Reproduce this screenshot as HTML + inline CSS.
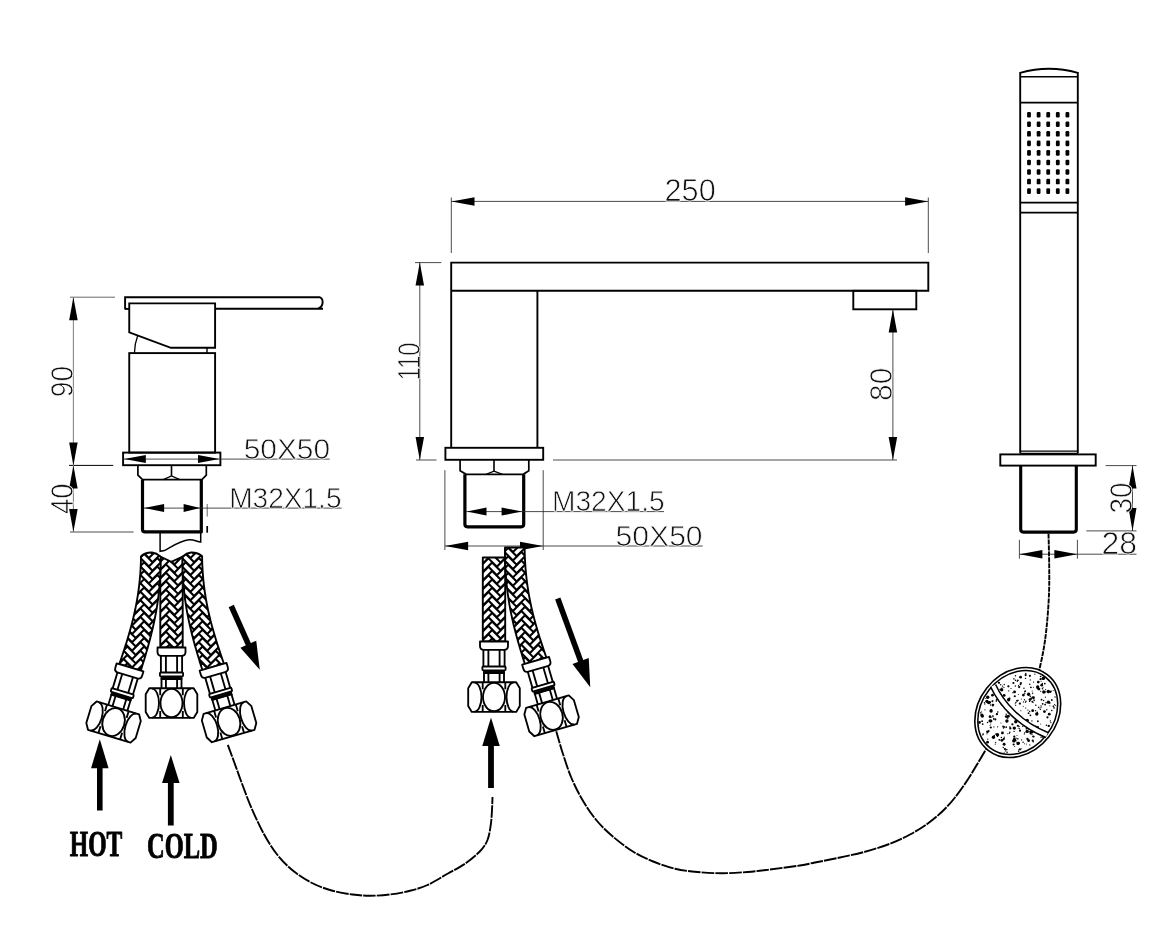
<!DOCTYPE html>
<html><head><meta charset="utf-8"><title>Bath mixer dimensions</title>
<style>html,body{margin:0;padding:0;background:#fff}svg{display:block}</style></head>
<body>
<svg width="1160" height="951" viewBox="0 0 1160 951" style="will-change:transform">
<rect width="1160" height="951" fill="#fff"/>
<path d="M125.1,309.4V297.2H319.3C323.9,298.6 323.9,306.5 318.2,308.7" fill="none" stroke="#000" stroke-width="1.9" />
<line x1="215.1" y1="308.7" x2="323" y2="308.7" stroke="#000" stroke-width="1.9" />
<line x1="125.1" y1="308.9" x2="129.3" y2="308.9" stroke="#000" stroke-width="1.9" />
<path d="M129.25,303.4H215.1V347.8H170.9L129.25,332.4Z" fill="none" stroke="#000" stroke-width="1.9" />
<path d="M137.6,336Q134.7,343.5 134.5,352.5" fill="none" stroke="#000" stroke-width="1.3" />
<line x1="207" y1="347.8" x2="207" y2="353" stroke="#000" stroke-width="1.4" />
<rect x="129.25" y="353.1" width="85.85" height="99.5" rx="0" fill="none" stroke="#000" stroke-width="1.9"/>
<rect x="123.1" y="452.6" width="97.3" height="12.6" rx="0" fill="none" stroke="#000" stroke-width="1.9"/>
<path d="M137.9,465.2V475.2L142.6,479.7H201.9L206.3,475.2V465.2" fill="none" stroke="#000" stroke-width="1.7" />
<path d="M163.2,479.7L171.5,476L179.8,479.7" fill="none" stroke="#000" stroke-width="1.3" />
<line x1="171.5" y1="465.2" x2="171.5" y2="476" stroke="#000" stroke-width="1.6" />
<path d="M142.5,479.7V529.5Q142.5,531.9 145,531.9H201.3V479.7" fill="none" stroke="#000" stroke-width="3.2" stroke-linejoin="round"/>
<path d="M160.1,532V551.3L164.5,550.6C174,545.5 180,540.8 189,539.8C194,539.4 197,541.8 200.7,542.1V532" fill="none" stroke="#000" stroke-width="1.5" />
<line x1="207.2" y1="504" x2="207.2" y2="516.6" stroke="#555" stroke-width="0.9" />
<line x1="207.2" y1="526" x2="207.2" y2="532.7" stroke="#000" stroke-width="1.7" />
<line x1="70" y1="297.2" x2="115" y2="297.2" stroke="#444" stroke-width="0.8" />
<line x1="69" y1="465.4" x2="113.3" y2="465.4" stroke="#000" stroke-width="1.0" />
<line x1="70" y1="532" x2="133.6" y2="532" stroke="#888" stroke-width="1.3" />
<line x1="73.4" y1="297.2" x2="73.4" y2="532" stroke="#888" stroke-width="1.1" />
<polygon points="73.4,297.2 77.65,320.2 69.15,320.2" fill="#000"/>
<polygon points="73.4,465.4 69.15,442.4 77.65,442.4" fill="#000"/>
<polygon points="73.4,465.4 77.65,488.4 69.15,488.4" fill="#000"/>
<polygon points="73.4,532 69.15,509 77.65,509" fill="#000"/>
<text x="73.2" y="397.3" font-family="'Liberation Sans', sans-serif" font-size="31.5" font-weight="normal" text-anchor="start" fill="#111" stroke="#fff" stroke-width="0.75" textLength="31.4" lengthAdjust="spacingAndGlyphs" transform="rotate(-90 73.2 397.3)">90</text>
<text x="73.2" y="514.1" font-family="'Liberation Sans', sans-serif" font-size="31.5" font-weight="normal" text-anchor="start" fill="#111" stroke="#fff" stroke-width="0.75" textLength="30.6" lengthAdjust="spacingAndGlyphs" transform="rotate(-90 73.2 514.1)">40</text>
<line x1="123.5" y1="459.1" x2="329.7" y2="459.1" stroke="#2a2a2a" stroke-width="0.85" />
<polygon points="124.2,459.1 145.8,455.1 145.8,463.1" fill="#000"/>
<polygon points="219.4,459.1 198,463.1 198,455.1" fill="#000"/>
<text x="243.7" y="458.8" font-family="'Liberation Sans', sans-serif" font-size="30" font-weight="normal" text-anchor="start" fill="#111" stroke="#fff" stroke-width="0.75" textLength="86.4" lengthAdjust="spacingAndGlyphs">50X50</text>
<line x1="144" y1="508.1" x2="341.6" y2="508.1" stroke="#2a2a2a" stroke-width="0.85" />
<polygon points="144.1,508.1 164.1,504.1 164.1,512.1" fill="#000"/>
<polygon points="200.1,508.1 183.6,512.1 183.6,504.1" fill="#000"/>
<text x="229.2" y="508" font-family="'Liberation Sans', sans-serif" font-size="30" font-weight="normal" text-anchor="start" fill="#111" stroke="#fff" stroke-width="0.75" textLength="112.3" lengthAdjust="spacingAndGlyphs">M32X1.5</text>
<clipPath id="hc1"><path d="M160.3,556.5 L160.3,557.75 L160.3,559.01 L160.3,560.25 L160.3,561.5 L160.3,562.74 L160.3,563.98 L160.3,565.21 L160.3,566.45 L160.3,567.67 L160.3,568.9 L160.3,570.12 L160.3,571.34 L160.3,572.56 L160.3,573.77 L160.3,574.98 L160.3,576.19 L160.3,577.39 L160.3,578.59 L160.3,579.79 L160.3,580.98 L160.3,582.18 L160.3,583.36 L160.3,584.55 L160.3,585.73 L160.3,586.91 L160.3,588.09 L160.3,589.26 L160.3,590.43 L160.3,591.6 L160.3,592.76 L160.3,593.93 L160.3,595.08 L160.3,596.24 L160.3,597.39 L160.3,598.54 L160.3,599.69 L160.3,600.83 L160.3,601.98 L160.3,603.11 L160.3,604.25 L160.3,605.38 L160.3,606.51 L160.3,607.64 L160.3,608.77 L160.3,609.89 L160.3,611.01 L160.3,612.12 L160.3,613.24 L160.3,614.35 L160.3,615.46 L160.3,616.56 L160.3,617.66 L160.3,618.76 L160.3,619.86 L160.3,620.96 L160.3,622.05 L160.3,623.14 L160.3,624.22 L160.3,625.31 L160.3,626.39 L160.3,627.47 L160.3,628.55 L160.3,629.62 L160.3,630.69 L160.3,631.76 L160.3,632.83 L160.3,633.89 L160.3,634.95 L160.3,636.01 L160.3,637.07 L160.3,638.12 L160.3,639.17 L160.3,640.22 L160.3,641.27 L160.3,642.31 L160.3,643.36 L160.3,644.4 L160.3,645.43 L160.3,646.47 L160.3,647.5 L182.7,647.5 L182.7,646.47 L182.7,645.43 L182.7,644.4 L182.7,643.36 L182.7,642.31 L182.7,641.27 L182.7,640.22 L182.7,639.17 L182.7,638.12 L182.7,637.07 L182.7,636.01 L182.7,634.95 L182.7,633.89 L182.7,632.83 L182.7,631.76 L182.7,630.69 L182.7,629.62 L182.7,628.55 L182.7,627.47 L182.7,626.39 L182.7,625.31 L182.7,624.22 L182.7,623.14 L182.7,622.05 L182.7,620.96 L182.7,619.86 L182.7,618.76 L182.7,617.66 L182.7,616.56 L182.7,615.46 L182.7,614.35 L182.7,613.24 L182.7,612.12 L182.7,611.01 L182.7,609.89 L182.7,608.77 L182.7,607.64 L182.7,606.51 L182.7,605.38 L182.7,604.25 L182.7,603.11 L182.7,601.98 L182.7,600.83 L182.7,599.69 L182.7,598.54 L182.7,597.39 L182.7,596.24 L182.7,595.08 L182.7,593.93 L182.7,592.76 L182.7,591.6 L182.7,590.43 L182.7,589.26 L182.7,588.09 L182.7,586.91 L182.7,585.73 L182.7,584.55 L182.7,583.36 L182.7,582.18 L182.7,580.98 L182.7,579.79 L182.7,578.59 L182.7,577.39 L182.7,576.19 L182.7,574.98 L182.7,573.77 L182.7,572.56 L182.7,571.34 L182.7,570.12 L182.7,568.9 L182.7,567.67 L182.7,566.45 L182.7,565.21 L182.7,563.98 L182.7,562.74 L182.7,561.5 L182.7,560.25 L182.7,559.01 L182.7,557.75 L182.7,556.5 L182.7,556.5 L171.3,561.8 L160.3,556.5 Z"/></clipPath>
<g clip-path="url(#hc1)">
<path d="M160.3,556.5 L160.3,557.75 L160.3,559.01 L160.3,560.25 L160.3,561.5 L160.3,562.74 L160.3,563.98 L160.3,565.21 L160.3,566.45 L160.3,567.67 L160.3,568.9 L160.3,570.12 L160.3,571.34 L160.3,572.56 L160.3,573.77 L160.3,574.98 L160.3,576.19 L160.3,577.39 L160.3,578.59 L160.3,579.79 L160.3,580.98 L160.3,582.18 L160.3,583.36 L160.3,584.55 L160.3,585.73 L160.3,586.91 L160.3,588.09 L160.3,589.26 L160.3,590.43 L160.3,591.6 L160.3,592.76 L160.3,593.93 L160.3,595.08 L160.3,596.24 L160.3,597.39 L160.3,598.54 L160.3,599.69 L160.3,600.83 L160.3,601.98 L160.3,603.11 L160.3,604.25 L160.3,605.38 L160.3,606.51 L160.3,607.64 L160.3,608.77 L160.3,609.89 L160.3,611.01 L160.3,612.12 L160.3,613.24 L160.3,614.35 L160.3,615.46 L160.3,616.56 L160.3,617.66 L160.3,618.76 L160.3,619.86 L160.3,620.96 L160.3,622.05 L160.3,623.14 L160.3,624.22 L160.3,625.31 L160.3,626.39 L160.3,627.47 L160.3,628.55 L160.3,629.62 L160.3,630.69 L160.3,631.76 L160.3,632.83 L160.3,633.89 L160.3,634.95 L160.3,636.01 L160.3,637.07 L160.3,638.12 L160.3,639.17 L160.3,640.22 L160.3,641.27 L160.3,642.31 L160.3,643.36 L160.3,644.4 L160.3,645.43 L160.3,646.47 L160.3,647.5 L182.7,647.5 L182.7,646.47 L182.7,645.43 L182.7,644.4 L182.7,643.36 L182.7,642.31 L182.7,641.27 L182.7,640.22 L182.7,639.17 L182.7,638.12 L182.7,637.07 L182.7,636.01 L182.7,634.95 L182.7,633.89 L182.7,632.83 L182.7,631.76 L182.7,630.69 L182.7,629.62 L182.7,628.55 L182.7,627.47 L182.7,626.39 L182.7,625.31 L182.7,624.22 L182.7,623.14 L182.7,622.05 L182.7,620.96 L182.7,619.86 L182.7,618.76 L182.7,617.66 L182.7,616.56 L182.7,615.46 L182.7,614.35 L182.7,613.24 L182.7,612.12 L182.7,611.01 L182.7,609.89 L182.7,608.77 L182.7,607.64 L182.7,606.51 L182.7,605.38 L182.7,604.25 L182.7,603.11 L182.7,601.98 L182.7,600.83 L182.7,599.69 L182.7,598.54 L182.7,597.39 L182.7,596.24 L182.7,595.08 L182.7,593.93 L182.7,592.76 L182.7,591.6 L182.7,590.43 L182.7,589.26 L182.7,588.09 L182.7,586.91 L182.7,585.73 L182.7,584.55 L182.7,583.36 L182.7,582.18 L182.7,580.98 L182.7,579.79 L182.7,578.59 L182.7,577.39 L182.7,576.19 L182.7,574.98 L182.7,573.77 L182.7,572.56 L182.7,571.34 L182.7,570.12 L182.7,568.9 L182.7,567.67 L182.7,566.45 L182.7,565.21 L182.7,563.98 L182.7,562.74 L182.7,561.5 L182.7,560.25 L182.7,559.01 L182.7,557.75 L182.7,556.5 L182.7,556.5 L171.3,561.8 L160.3,556.5 Z" fill="#000"/>
<path d="M143.19,540.64l7.21,-7.21M143.19,549.06l7.21,-7.21M143.19,557.48l7.21,-7.21M143.19,565.9l7.21,-7.21M143.19,574.32l7.21,-7.21M143.19,582.74l7.21,-7.21M143.19,591.16l7.21,-7.21M143.19,599.58l7.21,-7.21M143.19,608l7.21,-7.21M143.19,616.42l7.21,-7.21M143.19,624.84l7.21,-7.21M143.19,633.26l7.21,-7.21M143.19,641.68l7.21,-7.21M143.19,650.1l7.21,-7.21M143.19,658.52l7.21,-7.21M143.19,666.94l7.21,-7.21M151.59,537.63l7.21,7.21M151.59,546.05l7.21,7.21M151.59,554.47l7.21,7.21M151.59,562.89l7.21,7.21M151.59,571.31l7.21,7.21M151.59,579.73l7.21,7.21M151.59,588.15l7.21,7.21M151.59,596.57l7.21,7.21M151.59,604.99l7.21,7.21M151.59,613.41l7.21,7.21M151.59,621.83l7.21,7.21M151.59,630.25l7.21,7.21M151.59,638.67l7.21,7.21M151.59,647.09l7.21,7.21M151.59,655.51l7.21,7.21M159.99,540.64l7.21,-7.21M159.99,549.06l7.21,-7.21M159.99,557.48l7.21,-7.21M159.99,565.9l7.21,-7.21M159.99,574.32l7.21,-7.21M159.99,582.74l7.21,-7.21M159.99,591.16l7.21,-7.21M159.99,599.58l7.21,-7.21M159.99,608l7.21,-7.21M159.99,616.42l7.21,-7.21M159.99,624.84l7.21,-7.21M159.99,633.26l7.21,-7.21M159.99,641.68l7.21,-7.21M159.99,650.1l7.21,-7.21M159.99,658.52l7.21,-7.21M159.99,666.94l7.21,-7.21M168.39,537.63l7.21,7.21M168.39,546.05l7.21,7.21M168.39,554.47l7.21,7.21M168.39,562.89l7.21,7.21M168.39,571.31l7.21,7.21M168.39,579.73l7.21,7.21M168.39,588.15l7.21,7.21M168.39,596.57l7.21,7.21M168.39,604.99l7.21,7.21M168.39,613.41l7.21,7.21M168.39,621.83l7.21,7.21M168.39,630.25l7.21,7.21M168.39,638.67l7.21,7.21M168.39,647.09l7.21,7.21M168.39,655.51l7.21,7.21M176.79,540.64l7.21,-7.21M176.79,549.06l7.21,-7.21M176.79,557.48l7.21,-7.21M176.79,565.9l7.21,-7.21M176.79,574.32l7.21,-7.21M176.79,582.74l7.21,-7.21M176.79,591.16l7.21,-7.21M176.79,599.58l7.21,-7.21M176.79,608l7.21,-7.21M176.79,616.42l7.21,-7.21M176.79,624.84l7.21,-7.21M176.79,633.26l7.21,-7.21M176.79,641.68l7.21,-7.21M176.79,650.1l7.21,-7.21M176.79,658.52l7.21,-7.21M176.79,666.94l7.21,-7.21M185.19,537.63l7.21,7.21M185.19,546.05l7.21,7.21M185.19,554.47l7.21,7.21M185.19,562.89l7.21,7.21M185.19,571.31l7.21,7.21M185.19,579.73l7.21,7.21M185.19,588.15l7.21,7.21M185.19,596.57l7.21,7.21M185.19,604.99l7.21,7.21M185.19,613.41l7.21,7.21M185.19,621.83l7.21,7.21M185.19,630.25l7.21,7.21M185.19,638.67l7.21,7.21M185.19,647.09l7.21,7.21M185.19,655.51l7.21,7.21M193.59,540.64l7.21,-7.21M193.59,549.06l7.21,-7.21M193.59,557.48l7.21,-7.21M193.59,565.9l7.21,-7.21M193.59,574.32l7.21,-7.21M193.59,582.74l7.21,-7.21M193.59,591.16l7.21,-7.21M193.59,599.58l7.21,-7.21M193.59,608l7.21,-7.21M193.59,616.42l7.21,-7.21M193.59,624.84l7.21,-7.21M193.59,633.26l7.21,-7.21M193.59,641.68l7.21,-7.21M193.59,650.1l7.21,-7.21M193.59,658.52l7.21,-7.21M193.59,666.94l7.21,-7.21" stroke="#fff" stroke-width="3.5" stroke-linecap="butt" fill="none"/>
</g>
<path d="M160.3,556.5 L160.3,557.75 L160.3,559.01 L160.3,560.25 L160.3,561.5 L160.3,562.74 L160.3,563.98 L160.3,565.21 L160.3,566.45 L160.3,567.67 L160.3,568.9 L160.3,570.12 L160.3,571.34 L160.3,572.56 L160.3,573.77 L160.3,574.98 L160.3,576.19 L160.3,577.39 L160.3,578.59 L160.3,579.79 L160.3,580.98 L160.3,582.18 L160.3,583.36 L160.3,584.55 L160.3,585.73 L160.3,586.91 L160.3,588.09 L160.3,589.26 L160.3,590.43 L160.3,591.6 L160.3,592.76 L160.3,593.93 L160.3,595.08 L160.3,596.24 L160.3,597.39 L160.3,598.54 L160.3,599.69 L160.3,600.83 L160.3,601.98 L160.3,603.11 L160.3,604.25 L160.3,605.38 L160.3,606.51 L160.3,607.64 L160.3,608.77 L160.3,609.89 L160.3,611.01 L160.3,612.12 L160.3,613.24 L160.3,614.35 L160.3,615.46 L160.3,616.56 L160.3,617.66 L160.3,618.76 L160.3,619.86 L160.3,620.96 L160.3,622.05 L160.3,623.14 L160.3,624.22 L160.3,625.31 L160.3,626.39 L160.3,627.47 L160.3,628.55 L160.3,629.62 L160.3,630.69 L160.3,631.76 L160.3,632.83 L160.3,633.89 L160.3,634.95 L160.3,636.01 L160.3,637.07 L160.3,638.12 L160.3,639.17 L160.3,640.22 L160.3,641.27 L160.3,642.31 L160.3,643.36 L160.3,644.4 L160.3,645.43 L160.3,646.47 L160.3,647.5 L182.7,647.5 L182.7,646.47 L182.7,645.43 L182.7,644.4 L182.7,643.36 L182.7,642.31 L182.7,641.27 L182.7,640.22 L182.7,639.17 L182.7,638.12 L182.7,637.07 L182.7,636.01 L182.7,634.95 L182.7,633.89 L182.7,632.83 L182.7,631.76 L182.7,630.69 L182.7,629.62 L182.7,628.55 L182.7,627.47 L182.7,626.39 L182.7,625.31 L182.7,624.22 L182.7,623.14 L182.7,622.05 L182.7,620.96 L182.7,619.86 L182.7,618.76 L182.7,617.66 L182.7,616.56 L182.7,615.46 L182.7,614.35 L182.7,613.24 L182.7,612.12 L182.7,611.01 L182.7,609.89 L182.7,608.77 L182.7,607.64 L182.7,606.51 L182.7,605.38 L182.7,604.25 L182.7,603.11 L182.7,601.98 L182.7,600.83 L182.7,599.69 L182.7,598.54 L182.7,597.39 L182.7,596.24 L182.7,595.08 L182.7,593.93 L182.7,592.76 L182.7,591.6 L182.7,590.43 L182.7,589.26 L182.7,588.09 L182.7,586.91 L182.7,585.73 L182.7,584.55 L182.7,583.36 L182.7,582.18 L182.7,580.98 L182.7,579.79 L182.7,578.59 L182.7,577.39 L182.7,576.19 L182.7,574.98 L182.7,573.77 L182.7,572.56 L182.7,571.34 L182.7,570.12 L182.7,568.9 L182.7,567.67 L182.7,566.45 L182.7,565.21 L182.7,563.98 L182.7,562.74 L182.7,561.5 L182.7,560.25 L182.7,559.01 L182.7,557.75 L182.7,556.5 L182.7,556.5 L171.3,561.8 L160.3,556.5 Z" fill="none" stroke="#000" stroke-width="1.9" stroke-linejoin="round"/>
<g transform="translate(171.5 647.5) rotate(0)" fill="#fff" stroke="#000" stroke-width="1.85" stroke-linejoin="round">
<rect x="-10" y="31" width="20" height="10.5"/>
<path d="M-5.6,31V41.5M5.6,31V41.5" fill="none"/>
<rect x="-10.6" y="7" width="21.2" height="18.5"/>
<path d="M-5.6,8V25M5.6,8V25" fill="none"/>
<rect x="-11.6" y="25" width="23.2" height="3.8" rx="1"/>
<rect x="-10.4" y="29.7" width="20.8" height="2.3" fill="#000" stroke-width="1"/>
<path d="M-14,0H14V4.5Q14,8.4 10,8.4H-10Q-14,8.4 -14,4.5Z"/>
<g transform="translate(0 40.8)">
<path d="M-22.2,0H22.2L25.8,6V23.6L22.2,29.6H-22.2L-25.8,23.6V6Z"/>
<ellipse cx="0" cy="14.8" rx="11" ry="14.2"/>
<path d="M-11.3,0V7M-11.3,22.6V29.6M11.3,0V7M11.3,22.6V29.6" fill="none"/>
<path d="M-19.5,0.3A7,14.5 0 0 1 -19.5,29.3M19.5,0.3A7,14.5 0 0 0 19.5,29.3" fill="none"/>
</g></g>
<clipPath id="hc2"><path d="M141,557 L140.98,558.59 L140.94,560.17 L140.9,561.74 L140.85,563.3 L140.79,564.85 L140.72,566.39 L140.65,567.92 L140.56,569.44 L140.47,570.95 L140.37,572.45 L140.27,573.94 L140.15,575.42 L140.03,576.9 L139.9,578.37 L139.76,579.82 L139.62,581.27 L139.47,582.71 L139.31,584.15 L139.15,585.57 L138.97,586.99 L138.79,588.4 L138.61,589.8 L138.42,591.2 L138.22,592.59 L138.01,593.97 L137.8,595.34 L137.58,596.71 L137.36,598.08 L137.13,599.43 L136.89,600.78 L136.65,602.12 L136.4,603.46 L136.15,604.8 L135.89,606.12 L135.63,607.44 L135.36,608.76 L135.08,610.07 L134.8,611.38 L134.51,612.68 L134.22,613.98 L133.93,615.27 L133.63,616.56 L133.32,617.85 L133.01,619.13 L132.7,620.4 L132.38,621.68 L132.05,622.95 L131.72,624.22 L131.39,625.48 L131.05,626.74 L130.71,628 L130.37,629.25 L130.02,630.51 L129.66,631.76 L129.31,633.01 L128.95,634.25 L128.58,635.5 L128.21,636.74 L127.84,637.98 L127.47,639.22 L127.09,640.46 L126.71,641.69 L126.33,642.93 L125.94,644.16 L125.55,645.4 L125.16,646.63 L124.76,647.86 L124.36,649.1 L123.96,650.33 L123.56,651.56 L123.15,652.79 L122.74,654.03 L122.33,655.26 L121.92,656.49 L121.51,657.73 L121.09,658.96 L120.67,660.2 L120.25,661.43 L119.83,662.67 L119.41,663.91 L140.69,670.89 L141.09,669.62 L141.49,668.36 L141.88,667.09 L142.28,665.82 L142.67,664.55 L143.06,663.28 L143.45,662.01 L143.84,660.74 L144.23,659.46 L144.61,658.18 L145,656.9 L145.38,655.62 L145.76,654.34 L146.14,653.05 L146.51,651.76 L146.89,650.47 L147.26,649.18 L147.63,647.88 L147.99,646.58 L148.35,645.28 L148.71,643.97 L149.07,642.66 L149.42,641.35 L149.78,640.03 L150.12,638.71 L150.47,637.38 L150.81,636.05 L151.14,634.72 L151.47,633.39 L151.8,632.04 L152.13,630.7 L152.45,629.35 L152.76,627.99 L153.07,626.63 L153.38,625.27 L153.68,623.9 L153.98,622.53 L154.27,621.15 L154.56,619.76 L154.84,618.37 L155.12,616.97 L155.39,615.57 L155.65,614.17 L155.91,612.75 L156.17,611.33 L156.42,609.91 L156.66,608.47 L156.9,607.04 L157.13,605.59 L157.35,604.14 L157.57,602.68 L157.78,601.22 L157.98,599.75 L158.18,598.27 L158.37,596.78 L158.56,595.29 L158.73,593.79 L158.9,592.28 L159.07,590.76 L159.22,589.24 L159.37,587.71 L159.51,586.17 L159.64,584.62 L159.77,583.07 L159.88,581.51 L159.99,579.94 L160.09,578.36 L160.18,576.77 L160.27,575.17 L160.34,573.56 L160.41,571.95 L160.46,570.33 L160.51,568.69 L160.55,567.05 L160.58,565.4 L160.61,563.74 L160.62,562.07 L160.62,560.39 L160.62,558.7 L160.6,557 L160.6,556.6 Q156.5,553 152,552.5 Q145,552.3 141,556.3 Z"/></clipPath>
<g clip-path="url(#hc2)">
<path d="M141,557 L140.98,558.59 L140.94,560.17 L140.9,561.74 L140.85,563.3 L140.79,564.85 L140.72,566.39 L140.65,567.92 L140.56,569.44 L140.47,570.95 L140.37,572.45 L140.27,573.94 L140.15,575.42 L140.03,576.9 L139.9,578.37 L139.76,579.82 L139.62,581.27 L139.47,582.71 L139.31,584.15 L139.15,585.57 L138.97,586.99 L138.79,588.4 L138.61,589.8 L138.42,591.2 L138.22,592.59 L138.01,593.97 L137.8,595.34 L137.58,596.71 L137.36,598.08 L137.13,599.43 L136.89,600.78 L136.65,602.12 L136.4,603.46 L136.15,604.8 L135.89,606.12 L135.63,607.44 L135.36,608.76 L135.08,610.07 L134.8,611.38 L134.51,612.68 L134.22,613.98 L133.93,615.27 L133.63,616.56 L133.32,617.85 L133.01,619.13 L132.7,620.4 L132.38,621.68 L132.05,622.95 L131.72,624.22 L131.39,625.48 L131.05,626.74 L130.71,628 L130.37,629.25 L130.02,630.51 L129.66,631.76 L129.31,633.01 L128.95,634.25 L128.58,635.5 L128.21,636.74 L127.84,637.98 L127.47,639.22 L127.09,640.46 L126.71,641.69 L126.33,642.93 L125.94,644.16 L125.55,645.4 L125.16,646.63 L124.76,647.86 L124.36,649.1 L123.96,650.33 L123.56,651.56 L123.15,652.79 L122.74,654.03 L122.33,655.26 L121.92,656.49 L121.51,657.73 L121.09,658.96 L120.67,660.2 L120.25,661.43 L119.83,662.67 L119.41,663.91 L140.69,670.89 L141.09,669.62 L141.49,668.36 L141.88,667.09 L142.28,665.82 L142.67,664.55 L143.06,663.28 L143.45,662.01 L143.84,660.74 L144.23,659.46 L144.61,658.18 L145,656.9 L145.38,655.62 L145.76,654.34 L146.14,653.05 L146.51,651.76 L146.89,650.47 L147.26,649.18 L147.63,647.88 L147.99,646.58 L148.35,645.28 L148.71,643.97 L149.07,642.66 L149.42,641.35 L149.78,640.03 L150.12,638.71 L150.47,637.38 L150.81,636.05 L151.14,634.72 L151.47,633.39 L151.8,632.04 L152.13,630.7 L152.45,629.35 L152.76,627.99 L153.07,626.63 L153.38,625.27 L153.68,623.9 L153.98,622.53 L154.27,621.15 L154.56,619.76 L154.84,618.37 L155.12,616.97 L155.39,615.57 L155.65,614.17 L155.91,612.75 L156.17,611.33 L156.42,609.91 L156.66,608.47 L156.9,607.04 L157.13,605.59 L157.35,604.14 L157.57,602.68 L157.78,601.22 L157.98,599.75 L158.18,598.27 L158.37,596.78 L158.56,595.29 L158.73,593.79 L158.9,592.28 L159.07,590.76 L159.22,589.24 L159.37,587.71 L159.51,586.17 L159.64,584.62 L159.77,583.07 L159.88,581.51 L159.99,579.94 L160.09,578.36 L160.18,576.77 L160.27,575.17 L160.34,573.56 L160.41,571.95 L160.46,570.33 L160.51,568.69 L160.55,567.05 L160.58,565.4 L160.61,563.74 L160.62,562.07 L160.62,560.39 L160.62,558.7 L160.6,557 L160.6,556.6 Q156.5,553 152,552.5 Q145,552.3 141,556.3 Z" fill="#000"/>
<path d="M100.89,542.76l7.21,-7.21M100.89,551.18l7.21,-7.21M100.89,559.6l7.21,-7.21M100.89,568.02l7.21,-7.21M100.89,576.44l7.21,-7.21M100.89,584.86l7.21,-7.21M100.89,593.28l7.21,-7.21M100.89,601.7l7.21,-7.21M100.89,610.12l7.21,-7.21M100.89,618.54l7.21,-7.21M100.89,626.96l7.21,-7.21M100.89,635.38l7.21,-7.21M100.89,643.8l7.21,-7.21M100.89,652.22l7.21,-7.21M100.89,660.64l7.21,-7.21M100.89,669.06l7.21,-7.21M100.89,677.48l7.21,-7.21M100.89,685.9l7.21,-7.21M109.29,539.75l7.21,7.21M109.29,548.17l7.21,7.21M109.29,556.59l7.21,7.21M109.29,565.01l7.21,7.21M109.29,573.43l7.21,7.21M109.29,581.85l7.21,7.21M109.29,590.27l7.21,7.21M109.29,598.69l7.21,7.21M109.29,607.11l7.21,7.21M109.29,615.53l7.21,7.21M109.29,623.95l7.21,7.21M109.29,632.37l7.21,7.21M109.29,640.79l7.21,7.21M109.29,649.21l7.21,7.21M109.29,657.63l7.21,7.21M109.29,666.05l7.21,7.21M109.29,674.47l7.21,7.21M109.29,682.89l7.21,7.21M117.69,542.76l7.21,-7.21M117.69,551.18l7.21,-7.21M117.69,559.6l7.21,-7.21M117.69,568.02l7.21,-7.21M117.69,576.44l7.21,-7.21M117.69,584.86l7.21,-7.21M117.69,593.28l7.21,-7.21M117.69,601.7l7.21,-7.21M117.69,610.12l7.21,-7.21M117.69,618.54l7.21,-7.21M117.69,626.96l7.21,-7.21M117.69,635.38l7.21,-7.21M117.69,643.8l7.21,-7.21M117.69,652.22l7.21,-7.21M117.69,660.64l7.21,-7.21M117.69,669.06l7.21,-7.21M117.69,677.48l7.21,-7.21M117.69,685.9l7.21,-7.21M126.09,539.75l7.21,7.21M126.09,548.17l7.21,7.21M126.09,556.59l7.21,7.21M126.09,565.01l7.21,7.21M126.09,573.43l7.21,7.21M126.09,581.85l7.21,7.21M126.09,590.27l7.21,7.21M126.09,598.69l7.21,7.21M126.09,607.11l7.21,7.21M126.09,615.53l7.21,7.21M126.09,623.95l7.21,7.21M126.09,632.37l7.21,7.21M126.09,640.79l7.21,7.21M126.09,649.21l7.21,7.21M126.09,657.63l7.21,7.21M126.09,666.05l7.21,7.21M126.09,674.47l7.21,7.21M126.09,682.89l7.21,7.21M134.49,542.76l7.21,-7.21M134.49,551.18l7.21,-7.21M134.49,559.6l7.21,-7.21M134.49,568.02l7.21,-7.21M134.49,576.44l7.21,-7.21M134.49,584.86l7.21,-7.21M134.49,593.28l7.21,-7.21M134.49,601.7l7.21,-7.21M134.49,610.12l7.21,-7.21M134.49,618.54l7.21,-7.21M134.49,626.96l7.21,-7.21M134.49,635.38l7.21,-7.21M134.49,643.8l7.21,-7.21M134.49,652.22l7.21,-7.21M134.49,660.64l7.21,-7.21M134.49,669.06l7.21,-7.21M134.49,677.48l7.21,-7.21M134.49,685.9l7.21,-7.21M142.89,539.75l7.21,7.21M142.89,548.17l7.21,7.21M142.89,556.59l7.21,7.21M142.89,565.01l7.21,7.21M142.89,573.43l7.21,7.21M142.89,581.85l7.21,7.21M142.89,590.27l7.21,7.21M142.89,598.69l7.21,7.21M142.89,607.11l7.21,7.21M142.89,615.53l7.21,7.21M142.89,623.95l7.21,7.21M142.89,632.37l7.21,7.21M142.89,640.79l7.21,7.21M142.89,649.21l7.21,7.21M142.89,657.63l7.21,7.21M142.89,666.05l7.21,7.21M142.89,674.47l7.21,7.21M142.89,682.89l7.21,7.21M151.29,542.76l7.21,-7.21M151.29,551.18l7.21,-7.21M151.29,559.6l7.21,-7.21M151.29,568.02l7.21,-7.21M151.29,576.44l7.21,-7.21M151.29,584.86l7.21,-7.21M151.29,593.28l7.21,-7.21M151.29,601.7l7.21,-7.21M151.29,610.12l7.21,-7.21M151.29,618.54l7.21,-7.21M151.29,626.96l7.21,-7.21M151.29,635.38l7.21,-7.21M151.29,643.8l7.21,-7.21M151.29,652.22l7.21,-7.21M151.29,660.64l7.21,-7.21M151.29,669.06l7.21,-7.21M151.29,677.48l7.21,-7.21M151.29,685.9l7.21,-7.21M159.69,539.75l7.21,7.21M159.69,548.17l7.21,7.21M159.69,556.59l7.21,7.21M159.69,565.01l7.21,7.21M159.69,573.43l7.21,7.21M159.69,581.85l7.21,7.21M159.69,590.27l7.21,7.21M159.69,598.69l7.21,7.21M159.69,607.11l7.21,7.21M159.69,615.53l7.21,7.21M159.69,623.95l7.21,7.21M159.69,632.37l7.21,7.21M159.69,640.79l7.21,7.21M159.69,649.21l7.21,7.21M159.69,657.63l7.21,7.21M159.69,666.05l7.21,7.21M159.69,674.47l7.21,7.21M159.69,682.89l7.21,7.21M168.09,542.76l7.21,-7.21M168.09,551.18l7.21,-7.21M168.09,559.6l7.21,-7.21M168.09,568.02l7.21,-7.21M168.09,576.44l7.21,-7.21M168.09,584.86l7.21,-7.21M168.09,593.28l7.21,-7.21M168.09,601.7l7.21,-7.21M168.09,610.12l7.21,-7.21M168.09,618.54l7.21,-7.21M168.09,626.96l7.21,-7.21M168.09,635.38l7.21,-7.21M168.09,643.8l7.21,-7.21M168.09,652.22l7.21,-7.21M168.09,660.64l7.21,-7.21M168.09,669.06l7.21,-7.21M168.09,677.48l7.21,-7.21M168.09,685.9l7.21,-7.21" stroke="#fff" stroke-width="3.5" stroke-linecap="butt" fill="none"/>
</g>
<path d="M141,557 L140.98,558.59 L140.94,560.17 L140.9,561.74 L140.85,563.3 L140.79,564.85 L140.72,566.39 L140.65,567.92 L140.56,569.44 L140.47,570.95 L140.37,572.45 L140.27,573.94 L140.15,575.42 L140.03,576.9 L139.9,578.37 L139.76,579.82 L139.62,581.27 L139.47,582.71 L139.31,584.15 L139.15,585.57 L138.97,586.99 L138.79,588.4 L138.61,589.8 L138.42,591.2 L138.22,592.59 L138.01,593.97 L137.8,595.34 L137.58,596.71 L137.36,598.08 L137.13,599.43 L136.89,600.78 L136.65,602.12 L136.4,603.46 L136.15,604.8 L135.89,606.12 L135.63,607.44 L135.36,608.76 L135.08,610.07 L134.8,611.38 L134.51,612.68 L134.22,613.98 L133.93,615.27 L133.63,616.56 L133.32,617.85 L133.01,619.13 L132.7,620.4 L132.38,621.68 L132.05,622.95 L131.72,624.22 L131.39,625.48 L131.05,626.74 L130.71,628 L130.37,629.25 L130.02,630.51 L129.66,631.76 L129.31,633.01 L128.95,634.25 L128.58,635.5 L128.21,636.74 L127.84,637.98 L127.47,639.22 L127.09,640.46 L126.71,641.69 L126.33,642.93 L125.94,644.16 L125.55,645.4 L125.16,646.63 L124.76,647.86 L124.36,649.1 L123.96,650.33 L123.56,651.56 L123.15,652.79 L122.74,654.03 L122.33,655.26 L121.92,656.49 L121.51,657.73 L121.09,658.96 L120.67,660.2 L120.25,661.43 L119.83,662.67 L119.41,663.91 L140.69,670.89 L141.09,669.62 L141.49,668.36 L141.88,667.09 L142.28,665.82 L142.67,664.55 L143.06,663.28 L143.45,662.01 L143.84,660.74 L144.23,659.46 L144.61,658.18 L145,656.9 L145.38,655.62 L145.76,654.34 L146.14,653.05 L146.51,651.76 L146.89,650.47 L147.26,649.18 L147.63,647.88 L147.99,646.58 L148.35,645.28 L148.71,643.97 L149.07,642.66 L149.42,641.35 L149.78,640.03 L150.12,638.71 L150.47,637.38 L150.81,636.05 L151.14,634.72 L151.47,633.39 L151.8,632.04 L152.13,630.7 L152.45,629.35 L152.76,627.99 L153.07,626.63 L153.38,625.27 L153.68,623.9 L153.98,622.53 L154.27,621.15 L154.56,619.76 L154.84,618.37 L155.12,616.97 L155.39,615.57 L155.65,614.17 L155.91,612.75 L156.17,611.33 L156.42,609.91 L156.66,608.47 L156.9,607.04 L157.13,605.59 L157.35,604.14 L157.57,602.68 L157.78,601.22 L157.98,599.75 L158.18,598.27 L158.37,596.78 L158.56,595.29 L158.73,593.79 L158.9,592.28 L159.07,590.76 L159.22,589.24 L159.37,587.71 L159.51,586.17 L159.64,584.62 L159.77,583.07 L159.88,581.51 L159.99,579.94 L160.09,578.36 L160.18,576.77 L160.27,575.17 L160.34,573.56 L160.41,571.95 L160.46,570.33 L160.51,568.69 L160.55,567.05 L160.58,565.4 L160.61,563.74 L160.62,562.07 L160.62,560.39 L160.62,558.7 L160.6,557 L160.6,556.6 Q156.5,553 152,552.5 Q145,552.3 141,556.3 Z" fill="none" stroke="#000" stroke-width="1.9" stroke-linejoin="round"/>
<g transform="translate(130.05 667.4) rotate(16.8)" fill="#fff" stroke="#000" stroke-width="1.85" stroke-linejoin="round">
<rect x="-10" y="31" width="20" height="12"/>
<path d="M-5.6,31V43M5.6,31V43" fill="none"/>
<rect x="-10.6" y="7" width="21.2" height="18.5"/>
<path d="M-5.6,8V25M5.6,8V25" fill="none"/>
<rect x="-11.6" y="25" width="23.2" height="3.8" rx="1"/>
<rect x="-10.4" y="29.7" width="20.8" height="2.3" fill="#000" stroke-width="1"/>
<path d="M-14,0H14V4.5Q14,8.4 10,8.4H-10Q-14,8.4 -14,4.5Z"/>
<g transform="translate(0 42.3)">
<path d="M-22.2,0H22.2L25.8,6V23.6L22.2,29.6H-22.2L-25.8,23.6V6Z"/>
<ellipse cx="0" cy="14.8" rx="11" ry="14.2"/>
<path d="M-11.3,0V7M-11.3,22.6V29.6M11.3,0V7M11.3,22.6V29.6" fill="none"/>
<path d="M-19.5,0.3A7,14.5 0 0 1 -19.5,29.3M19.5,0.3A7,14.5 0 0 0 19.5,29.3" fill="none"/>
</g></g>
<clipPath id="hc3"><path d="M182.5,557 L182.48,558.7 L182.48,560.39 L182.48,562.06 L182.49,563.73 L182.51,565.39 L182.54,567.03 L182.58,568.67 L182.63,570.3 L182.69,571.91 L182.75,573.52 L182.83,575.12 L182.91,576.71 L183,578.29 L183.1,579.86 L183.21,581.42 L183.32,582.97 L183.45,584.51 L183.58,586.05 L183.72,587.58 L183.86,589.09 L184.02,590.6 L184.18,592.11 L184.35,593.6 L184.53,595.09 L184.71,596.57 L184.9,598.04 L185.1,599.5 L185.3,600.96 L185.51,602.41 L185.73,603.86 L185.95,605.29 L186.18,606.72 L186.42,608.15 L186.66,609.56 L186.91,610.97 L187.16,612.38 L187.42,613.78 L187.69,615.17 L187.96,616.56 L188.24,617.94 L188.52,619.32 L188.8,620.69 L189.1,622.05 L189.39,623.42 L189.7,624.77 L190,626.12 L190.31,627.47 L190.63,628.81 L190.95,630.15 L191.28,631.48 L191.6,632.81 L191.94,634.14 L192.27,635.46 L192.62,636.78 L192.96,638.1 L193.31,639.41 L193.66,640.72 L194.01,642.02 L194.37,643.33 L194.73,644.63 L195.1,645.92 L195.47,647.22 L195.84,648.51 L196.21,649.8 L196.59,651.09 L196.96,652.38 L197.34,653.66 L197.73,654.95 L198.11,656.23 L198.5,657.51 L198.89,658.79 L199.28,660.07 L199.67,661.35 L200.07,662.63 L200.46,663.91 L200.86,665.18 L201.26,666.46 L201.66,667.74 L202.06,669.02 L202.46,670.29 L223.74,663.31 L223.31,662.05 L222.88,660.8 L222.46,659.55 L222.03,658.3 L221.61,657.05 L221.19,655.81 L220.78,654.57 L220.36,653.33 L219.95,652.09 L219.54,650.85 L219.13,649.62 L218.73,648.38 L218.33,647.15 L217.93,645.92 L217.53,644.68 L217.14,643.45 L216.75,642.22 L216.36,640.98 L215.98,639.75 L215.6,638.52 L215.22,637.28 L214.85,636.05 L214.48,634.82 L214.12,633.58 L213.75,632.34 L213.4,631.1 L213.04,629.86 L212.69,628.62 L212.35,627.38 L212.01,626.13 L211.67,624.88 L211.34,623.63 L211.01,622.38 L210.68,621.12 L210.36,619.86 L210.05,618.6 L209.74,617.33 L209.43,616.06 L209.13,614.79 L208.84,613.51 L208.55,612.23 L208.26,610.94 L207.98,609.65 L207.71,608.36 L207.44,607.06 L207.18,605.75 L206.92,604.44 L206.67,603.12 L206.42,601.8 L206.18,600.47 L205.95,599.14 L205.72,597.8 L205.49,596.46 L205.28,595.1 L205.07,593.74 L204.86,592.38 L204.67,591 L204.48,589.62 L204.29,588.23 L204.11,586.84 L203.94,585.43 L203.78,584.02 L203.62,582.6 L203.47,581.17 L203.33,579.73 L203.19,578.29 L203.06,576.83 L202.94,575.37 L202.83,573.89 L202.72,572.41 L202.62,570.91 L202.53,569.41 L202.45,567.9 L202.38,566.37 L202.31,564.84 L202.25,563.29 L202.2,561.74 L202.16,560.17 L202.12,558.59 L202.1,557 L202.1,556.3 Q198,552.3 191,552.5 Q186.5,553 182.5,556.6 Z"/></clipPath>
<g clip-path="url(#hc3)">
<path d="M182.5,557 L182.48,558.7 L182.48,560.39 L182.48,562.06 L182.49,563.73 L182.51,565.39 L182.54,567.03 L182.58,568.67 L182.63,570.3 L182.69,571.91 L182.75,573.52 L182.83,575.12 L182.91,576.71 L183,578.29 L183.1,579.86 L183.21,581.42 L183.32,582.97 L183.45,584.51 L183.58,586.05 L183.72,587.58 L183.86,589.09 L184.02,590.6 L184.18,592.11 L184.35,593.6 L184.53,595.09 L184.71,596.57 L184.9,598.04 L185.1,599.5 L185.3,600.96 L185.51,602.41 L185.73,603.86 L185.95,605.29 L186.18,606.72 L186.42,608.15 L186.66,609.56 L186.91,610.97 L187.16,612.38 L187.42,613.78 L187.69,615.17 L187.96,616.56 L188.24,617.94 L188.52,619.32 L188.8,620.69 L189.1,622.05 L189.39,623.42 L189.7,624.77 L190,626.12 L190.31,627.47 L190.63,628.81 L190.95,630.15 L191.28,631.48 L191.6,632.81 L191.94,634.14 L192.27,635.46 L192.62,636.78 L192.96,638.1 L193.31,639.41 L193.66,640.72 L194.01,642.02 L194.37,643.33 L194.73,644.63 L195.1,645.92 L195.47,647.22 L195.84,648.51 L196.21,649.8 L196.59,651.09 L196.96,652.38 L197.34,653.66 L197.73,654.95 L198.11,656.23 L198.5,657.51 L198.89,658.79 L199.28,660.07 L199.67,661.35 L200.07,662.63 L200.46,663.91 L200.86,665.18 L201.26,666.46 L201.66,667.74 L202.06,669.02 L202.46,670.29 L223.74,663.31 L223.31,662.05 L222.88,660.8 L222.46,659.55 L222.03,658.3 L221.61,657.05 L221.19,655.81 L220.78,654.57 L220.36,653.33 L219.95,652.09 L219.54,650.85 L219.13,649.62 L218.73,648.38 L218.33,647.15 L217.93,645.92 L217.53,644.68 L217.14,643.45 L216.75,642.22 L216.36,640.98 L215.98,639.75 L215.6,638.52 L215.22,637.28 L214.85,636.05 L214.48,634.82 L214.12,633.58 L213.75,632.34 L213.4,631.1 L213.04,629.86 L212.69,628.62 L212.35,627.38 L212.01,626.13 L211.67,624.88 L211.34,623.63 L211.01,622.38 L210.68,621.12 L210.36,619.86 L210.05,618.6 L209.74,617.33 L209.43,616.06 L209.13,614.79 L208.84,613.51 L208.55,612.23 L208.26,610.94 L207.98,609.65 L207.71,608.36 L207.44,607.06 L207.18,605.75 L206.92,604.44 L206.67,603.12 L206.42,601.8 L206.18,600.47 L205.95,599.14 L205.72,597.8 L205.49,596.46 L205.28,595.1 L205.07,593.74 L204.86,592.38 L204.67,591 L204.48,589.62 L204.29,588.23 L204.11,586.84 L203.94,585.43 L203.78,584.02 L203.62,582.6 L203.47,581.17 L203.33,579.73 L203.19,578.29 L203.06,576.83 L202.94,575.37 L202.83,573.89 L202.72,572.41 L202.62,570.91 L202.53,569.41 L202.45,567.9 L202.38,566.37 L202.31,564.84 L202.25,563.29 L202.2,561.74 L202.16,560.17 L202.12,558.59 L202.1,557 L202.1,556.3 Q198,552.3 191,552.5 Q186.5,553 182.5,556.6 Z" fill="#000"/>
<path d="M167.69,539.75l7.21,7.21M167.69,548.17l7.21,7.21M167.69,556.59l7.21,7.21M167.69,565.01l7.21,7.21M167.69,573.43l7.21,7.21M167.69,581.85l7.21,7.21M167.69,590.27l7.21,7.21M167.69,598.69l7.21,7.21M167.69,607.11l7.21,7.21M167.69,615.53l7.21,7.21M167.69,623.95l7.21,7.21M167.69,632.37l7.21,7.21M167.69,640.79l7.21,7.21M167.69,649.21l7.21,7.21M167.69,657.63l7.21,7.21M167.69,666.05l7.21,7.21M167.69,674.47l7.21,7.21M167.69,682.89l7.21,7.21M176.09,542.76l7.21,-7.21M176.09,551.18l7.21,-7.21M176.09,559.6l7.21,-7.21M176.09,568.02l7.21,-7.21M176.09,576.44l7.21,-7.21M176.09,584.86l7.21,-7.21M176.09,593.28l7.21,-7.21M176.09,601.7l7.21,-7.21M176.09,610.12l7.21,-7.21M176.09,618.54l7.21,-7.21M176.09,626.96l7.21,-7.21M176.09,635.38l7.21,-7.21M176.09,643.8l7.21,-7.21M176.09,652.22l7.21,-7.21M176.09,660.64l7.21,-7.21M176.09,669.06l7.21,-7.21M176.09,677.48l7.21,-7.21M176.09,685.9l7.21,-7.21M184.49,539.75l7.21,7.21M184.49,548.17l7.21,7.21M184.49,556.59l7.21,7.21M184.49,565.01l7.21,7.21M184.49,573.43l7.21,7.21M184.49,581.85l7.21,7.21M184.49,590.27l7.21,7.21M184.49,598.69l7.21,7.21M184.49,607.11l7.21,7.21M184.49,615.53l7.21,7.21M184.49,623.95l7.21,7.21M184.49,632.37l7.21,7.21M184.49,640.79l7.21,7.21M184.49,649.21l7.21,7.21M184.49,657.63l7.21,7.21M184.49,666.05l7.21,7.21M184.49,674.47l7.21,7.21M184.49,682.89l7.21,7.21M192.89,542.76l7.21,-7.21M192.89,551.18l7.21,-7.21M192.89,559.6l7.21,-7.21M192.89,568.02l7.21,-7.21M192.89,576.44l7.21,-7.21M192.89,584.86l7.21,-7.21M192.89,593.28l7.21,-7.21M192.89,601.7l7.21,-7.21M192.89,610.12l7.21,-7.21M192.89,618.54l7.21,-7.21M192.89,626.96l7.21,-7.21M192.89,635.38l7.21,-7.21M192.89,643.8l7.21,-7.21M192.89,652.22l7.21,-7.21M192.89,660.64l7.21,-7.21M192.89,669.06l7.21,-7.21M192.89,677.48l7.21,-7.21M192.89,685.9l7.21,-7.21M201.29,539.75l7.21,7.21M201.29,548.17l7.21,7.21M201.29,556.59l7.21,7.21M201.29,565.01l7.21,7.21M201.29,573.43l7.21,7.21M201.29,581.85l7.21,7.21M201.29,590.27l7.21,7.21M201.29,598.69l7.21,7.21M201.29,607.11l7.21,7.21M201.29,615.53l7.21,7.21M201.29,623.95l7.21,7.21M201.29,632.37l7.21,7.21M201.29,640.79l7.21,7.21M201.29,649.21l7.21,7.21M201.29,657.63l7.21,7.21M201.29,666.05l7.21,7.21M201.29,674.47l7.21,7.21M201.29,682.89l7.21,7.21M209.69,542.76l7.21,-7.21M209.69,551.18l7.21,-7.21M209.69,559.6l7.21,-7.21M209.69,568.02l7.21,-7.21M209.69,576.44l7.21,-7.21M209.69,584.86l7.21,-7.21M209.69,593.28l7.21,-7.21M209.69,601.7l7.21,-7.21M209.69,610.12l7.21,-7.21M209.69,618.54l7.21,-7.21M209.69,626.96l7.21,-7.21M209.69,635.38l7.21,-7.21M209.69,643.8l7.21,-7.21M209.69,652.22l7.21,-7.21M209.69,660.64l7.21,-7.21M209.69,669.06l7.21,-7.21M209.69,677.48l7.21,-7.21M209.69,685.9l7.21,-7.21M218.09,539.75l7.21,7.21M218.09,548.17l7.21,7.21M218.09,556.59l7.21,7.21M218.09,565.01l7.21,7.21M218.09,573.43l7.21,7.21M218.09,581.85l7.21,7.21M218.09,590.27l7.21,7.21M218.09,598.69l7.21,7.21M218.09,607.11l7.21,7.21M218.09,615.53l7.21,7.21M218.09,623.95l7.21,7.21M218.09,632.37l7.21,7.21M218.09,640.79l7.21,7.21M218.09,649.21l7.21,7.21M218.09,657.63l7.21,7.21M218.09,666.05l7.21,7.21M218.09,674.47l7.21,7.21M218.09,682.89l7.21,7.21M226.49,542.76l7.21,-7.21M226.49,551.18l7.21,-7.21M226.49,559.6l7.21,-7.21M226.49,568.02l7.21,-7.21M226.49,576.44l7.21,-7.21M226.49,584.86l7.21,-7.21M226.49,593.28l7.21,-7.21M226.49,601.7l7.21,-7.21M226.49,610.12l7.21,-7.21M226.49,618.54l7.21,-7.21M226.49,626.96l7.21,-7.21M226.49,635.38l7.21,-7.21M226.49,643.8l7.21,-7.21M226.49,652.22l7.21,-7.21M226.49,660.64l7.21,-7.21M226.49,669.06l7.21,-7.21M226.49,677.48l7.21,-7.21M226.49,685.9l7.21,-7.21M234.89,539.75l7.21,7.21M234.89,548.17l7.21,7.21M234.89,556.59l7.21,7.21M234.89,565.01l7.21,7.21M234.89,573.43l7.21,7.21M234.89,581.85l7.21,7.21M234.89,590.27l7.21,7.21M234.89,598.69l7.21,7.21M234.89,607.11l7.21,7.21M234.89,615.53l7.21,7.21M234.89,623.95l7.21,7.21M234.89,632.37l7.21,7.21M234.89,640.79l7.21,7.21M234.89,649.21l7.21,7.21M234.89,657.63l7.21,7.21M234.89,666.05l7.21,7.21M234.89,674.47l7.21,7.21M234.89,682.89l7.21,7.21" stroke="#fff" stroke-width="3.5" stroke-linecap="butt" fill="none"/>
</g>
<path d="M182.5,557 L182.48,558.7 L182.48,560.39 L182.48,562.06 L182.49,563.73 L182.51,565.39 L182.54,567.03 L182.58,568.67 L182.63,570.3 L182.69,571.91 L182.75,573.52 L182.83,575.12 L182.91,576.71 L183,578.29 L183.1,579.86 L183.21,581.42 L183.32,582.97 L183.45,584.51 L183.58,586.05 L183.72,587.58 L183.86,589.09 L184.02,590.6 L184.18,592.11 L184.35,593.6 L184.53,595.09 L184.71,596.57 L184.9,598.04 L185.1,599.5 L185.3,600.96 L185.51,602.41 L185.73,603.86 L185.95,605.29 L186.18,606.72 L186.42,608.15 L186.66,609.56 L186.91,610.97 L187.16,612.38 L187.42,613.78 L187.69,615.17 L187.96,616.56 L188.24,617.94 L188.52,619.32 L188.8,620.69 L189.1,622.05 L189.39,623.42 L189.7,624.77 L190,626.12 L190.31,627.47 L190.63,628.81 L190.95,630.15 L191.28,631.48 L191.6,632.81 L191.94,634.14 L192.27,635.46 L192.62,636.78 L192.96,638.1 L193.31,639.41 L193.66,640.72 L194.01,642.02 L194.37,643.33 L194.73,644.63 L195.1,645.92 L195.47,647.22 L195.84,648.51 L196.21,649.8 L196.59,651.09 L196.96,652.38 L197.34,653.66 L197.73,654.95 L198.11,656.23 L198.5,657.51 L198.89,658.79 L199.28,660.07 L199.67,661.35 L200.07,662.63 L200.46,663.91 L200.86,665.18 L201.26,666.46 L201.66,667.74 L202.06,669.02 L202.46,670.29 L223.74,663.31 L223.31,662.05 L222.88,660.8 L222.46,659.55 L222.03,658.3 L221.61,657.05 L221.19,655.81 L220.78,654.57 L220.36,653.33 L219.95,652.09 L219.54,650.85 L219.13,649.62 L218.73,648.38 L218.33,647.15 L217.93,645.92 L217.53,644.68 L217.14,643.45 L216.75,642.22 L216.36,640.98 L215.98,639.75 L215.6,638.52 L215.22,637.28 L214.85,636.05 L214.48,634.82 L214.12,633.58 L213.75,632.34 L213.4,631.1 L213.04,629.86 L212.69,628.62 L212.35,627.38 L212.01,626.13 L211.67,624.88 L211.34,623.63 L211.01,622.38 L210.68,621.12 L210.36,619.86 L210.05,618.6 L209.74,617.33 L209.43,616.06 L209.13,614.79 L208.84,613.51 L208.55,612.23 L208.26,610.94 L207.98,609.65 L207.71,608.36 L207.44,607.06 L207.18,605.75 L206.92,604.44 L206.67,603.12 L206.42,601.8 L206.18,600.47 L205.95,599.14 L205.72,597.8 L205.49,596.46 L205.28,595.1 L205.07,593.74 L204.86,592.38 L204.67,591 L204.48,589.62 L204.29,588.23 L204.11,586.84 L203.94,585.43 L203.78,584.02 L203.62,582.6 L203.47,581.17 L203.33,579.73 L203.19,578.29 L203.06,576.83 L202.94,575.37 L202.83,573.89 L202.72,572.41 L202.62,570.91 L202.53,569.41 L202.45,567.9 L202.38,566.37 L202.31,564.84 L202.25,563.29 L202.2,561.74 L202.16,560.17 L202.12,558.59 L202.1,557 L202.1,556.3 Q198,552.3 191,552.5 Q186.5,553 182.5,556.6 Z" fill="none" stroke="#000" stroke-width="1.9" stroke-linejoin="round"/>
<g transform="translate(213.1 666.8) rotate(-16.2)" fill="#fff" stroke="#000" stroke-width="1.85" stroke-linejoin="round">
<rect x="-10" y="31" width="20" height="12.2"/>
<path d="M-5.6,31V43.2M5.6,31V43.2" fill="none"/>
<rect x="-10.6" y="7" width="21.2" height="18.5"/>
<path d="M-5.6,8V25M5.6,8V25" fill="none"/>
<rect x="-11.6" y="25" width="23.2" height="3.8" rx="1"/>
<rect x="-10.4" y="29.7" width="20.8" height="2.3" fill="#000" stroke-width="1"/>
<path d="M-14,0H14V4.5Q14,8.4 10,8.4H-10Q-14,8.4 -14,4.5Z"/>
<g transform="translate(0 42.5)">
<path d="M-22.2,0H22.2L25.8,6V23.6L22.2,29.6H-22.2L-25.8,23.6V6Z"/>
<ellipse cx="0" cy="14.8" rx="11" ry="14.2"/>
<path d="M-11.3,0V7M-11.3,22.6V29.6M11.3,0V7M11.3,22.6V29.6" fill="none"/>
<path d="M-19.5,0.3A7,14.5 0 0 1 -19.5,29.3M19.5,0.3A7,14.5 0 0 0 19.5,29.3" fill="none"/>
</g></g>
<line x1="231.25" y1="606" x2="248.73" y2="645.1" stroke="#000" stroke-width="5.6" />
<polygon points="259.75,669.75 240.43,647.72 256.22,640.66" fill="#000"/>
<line x1="99.8" y1="810.5" x2="99.8" y2="767.2" stroke="#000" stroke-width="5.6" />
<polygon points="99.8,739.2 108.55,768.2 91.05,768.2" fill="#000"/>
<line x1="170.8" y1="825.5" x2="170.8" y2="782" stroke="#000" stroke-width="5.8" />
<polygon points="170.8,755 179.55,783 162.05,783" fill="#000"/>
<text x="69.8" y="856.3" font-family="'Liberation Serif', sans-serif" font-size="36.3" font-weight="bold" text-anchor="start" fill="#000" stroke="#000" stroke-width="0.9" stroke-linejoin="round" textLength="52.6" lengthAdjust="spacingAndGlyphs">HOT</text>
<text x="147" y="858.3" font-family="'Liberation Serif', sans-serif" font-size="36.3" font-weight="bold" text-anchor="start" fill="#000" stroke="#000" stroke-width="0.9" stroke-linejoin="round" textLength="70.8" lengthAdjust="spacingAndGlyphs">COLD</text>
<path d="M451.2,447.8V262.6H928.3V290.8H451.2" fill="none" stroke="#000" stroke-width="1.9" />
<line x1="537.4" y1="290.8" x2="537.4" y2="447.8" stroke="#000" stroke-width="1.9" />
<rect x="853.3" y="290.8" width="63" height="18.5" rx="0" fill="none" stroke="#000" stroke-width="1.9"/>
<rect x="445.4" y="447.8" width="97.8" height="12" rx="0" fill="none" stroke="#000" stroke-width="1.9"/>
<path d="M460.1,459.8V470.7L466.2,474.3H523.2L528.8,470.7V459.8" fill="none" stroke="#000" stroke-width="1.7" />
<path d="M486,474.3L494,471.2L502.6,474.3" fill="none" stroke="#000" stroke-width="1.3" />
<line x1="494" y1="459.8" x2="494" y2="471.2" stroke="#000" stroke-width="1.6" />
<path d="M464.9,474.3V524.3Q464.9,526.8 467.4,526.8H521.2Q523.7,526.8 523.7,524.3V474.3" fill="none" stroke="#000" stroke-width="3.2" stroke-linejoin="round"/>
<line x1="451.3" y1="197.5" x2="451.3" y2="253" stroke="#2a2a2a" stroke-width="0.85" />
<line x1="928.3" y1="197.5" x2="928.3" y2="253" stroke="#2a2a2a" stroke-width="0.85" />
<line x1="451.3" y1="201.4" x2="928.3" y2="201.4" stroke="#2a2a2a" stroke-width="0.85" />
<polygon points="451.5,201.4 474.5,197.15 474.5,205.65" fill="#000"/>
<polygon points="928.1,201.4 905.1,205.65 905.1,197.15" fill="#000"/>
<text x="664.5" y="201.3" font-family="'Liberation Sans', sans-serif" font-size="31" font-weight="normal" text-anchor="start" fill="#111" stroke="#fff" stroke-width="0.75" textLength="51.2" lengthAdjust="spacingAndGlyphs">250</text>
<line x1="415" y1="262.6" x2="441.3" y2="262.6" stroke="#2a2a2a" stroke-width="0.85" />
<line x1="416" y1="460" x2="436.5" y2="460" stroke="#2a2a2a" stroke-width="0.85" />
<line x1="419.8" y1="262.6" x2="419.8" y2="460" stroke="#2a2a2a" stroke-width="0.85" />
<polygon points="419.8,262.6 424.05,285.6 415.55,285.6" fill="#000"/>
<polygon points="419.8,460 415.55,437 424.05,437" fill="#000"/>
<text x="419.6" y="380.2" font-family="'Liberation Sans', sans-serif" font-size="31" font-weight="normal" text-anchor="start" fill="#111" stroke="#fff" stroke-width="0.75" textLength="37.6" lengthAdjust="spacingAndGlyphs" transform="rotate(-90 419.6 380.2)">110</text>
<line x1="553" y1="460" x2="897" y2="460" stroke="#2a2a2a" stroke-width="0.85" />
<line x1="892.9" y1="309.3" x2="892.9" y2="460" stroke="#2a2a2a" stroke-width="0.85" />
<polygon points="892.9,309.5 897.15,332.5 888.65,332.5" fill="#000"/>
<polygon points="892.9,460 888.65,437 897.15,437" fill="#000"/>
<text x="892.5" y="400.9" font-family="'Liberation Sans', sans-serif" font-size="30.5" font-weight="normal" text-anchor="start" fill="#111" stroke="#fff" stroke-width="0.75" textLength="33.2" lengthAdjust="spacingAndGlyphs" transform="rotate(-90 892.5 400.9)">80</text>
<line x1="466" y1="511.6" x2="664" y2="511.6" stroke="#2a2a2a" stroke-width="0.85" />
<polygon points="466.7,511.6 486.5,507.6 486.5,515.6" fill="#000"/>
<polygon points="522.2,511.6 501.6,515.6 501.6,507.6" fill="#000"/>
<text x="552" y="511.4" font-family="'Liberation Sans', sans-serif" font-size="30" font-weight="normal" text-anchor="start" fill="#111" stroke="#fff" stroke-width="0.75" textLength="112.6" lengthAdjust="spacingAndGlyphs">M32X1.5</text>
<line x1="444.9" y1="470.2" x2="444.9" y2="550" stroke="#2a2a2a" stroke-width="0.85" />
<line x1="543.2" y1="470.2" x2="543.2" y2="550" stroke="#2a2a2a" stroke-width="0.85" />
<line x1="444.9" y1="546" x2="702.7" y2="546" stroke="#2a2a2a" stroke-width="0.85" />
<polygon points="445.1,546 468.1,541.75 468.1,550.25" fill="#000"/>
<polygon points="543,546 520,550.25 520,541.75" fill="#000"/>
<text x="615.6" y="545.8" font-family="'Liberation Sans', sans-serif" font-size="30" font-weight="normal" text-anchor="start" fill="#111" stroke="#fff" stroke-width="0.75" textLength="87" lengthAdjust="spacingAndGlyphs">50X50</text>
<clipPath id="hc4"><path d="M482.8,557.5 L482.8,558.5 L482.8,559.49 L482.8,560.5 L482.8,561.5 L482.8,562.51 L482.8,563.52 L482.8,564.53 L482.8,565.55 L482.8,566.57 L482.8,567.59 L482.8,568.61 L482.8,569.64 L482.8,570.67 L482.8,571.7 L482.8,572.74 L482.8,573.77 L482.8,574.81 L482.8,575.85 L482.8,576.89 L482.8,577.94 L482.8,578.98 L482.8,580.03 L482.8,581.08 L482.8,582.13 L482.8,583.19 L482.8,584.24 L482.8,585.3 L482.8,586.35 L482.8,587.41 L482.8,588.47 L482.8,589.53 L482.8,590.6 L482.8,591.66 L482.8,592.72 L482.8,593.79 L482.8,594.85 L482.8,595.92 L482.8,596.99 L482.8,598.06 L482.8,599.12 L482.8,600.19 L482.8,601.26 L482.8,602.33 L482.8,603.4 L482.8,604.47 L482.8,605.54 L482.8,606.61 L482.8,607.68 L482.8,608.75 L482.8,609.82 L482.8,610.89 L482.8,611.96 L482.8,613.03 L482.8,614.1 L482.8,615.17 L482.8,616.24 L482.8,617.3 L482.8,618.37 L482.8,619.44 L482.8,620.5 L482.8,621.56 L482.8,622.63 L482.8,623.69 L482.8,624.75 L482.8,625.81 L482.8,626.86 L482.8,627.92 L482.8,628.98 L482.8,630.03 L482.8,631.08 L482.8,632.13 L482.8,633.18 L482.8,634.23 L482.8,635.27 L482.8,636.32 L482.8,637.36 L482.8,638.4 L482.8,639.43 L482.8,640.47 L482.8,641.5 L505.2,641.5 L505.2,640.47 L505.2,639.43 L505.2,638.4 L505.2,637.36 L505.2,636.32 L505.2,635.27 L505.2,634.23 L505.2,633.18 L505.2,632.13 L505.2,631.08 L505.2,630.03 L505.2,628.98 L505.2,627.92 L505.2,626.86 L505.2,625.81 L505.2,624.75 L505.2,623.69 L505.2,622.63 L505.2,621.56 L505.2,620.5 L505.2,619.44 L505.2,618.37 L505.2,617.3 L505.2,616.24 L505.2,615.17 L505.2,614.1 L505.2,613.03 L505.2,611.96 L505.2,610.89 L505.2,609.82 L505.2,608.75 L505.2,607.68 L505.2,606.61 L505.2,605.54 L505.2,604.47 L505.2,603.4 L505.2,602.33 L505.2,601.26 L505.2,600.19 L505.2,599.12 L505.2,598.06 L505.2,596.99 L505.2,595.92 L505.2,594.85 L505.2,593.79 L505.2,592.72 L505.2,591.66 L505.2,590.6 L505.2,589.53 L505.2,588.47 L505.2,587.41 L505.2,586.35 L505.2,585.3 L505.2,584.24 L505.2,583.19 L505.2,582.13 L505.2,581.08 L505.2,580.03 L505.2,578.98 L505.2,577.94 L505.2,576.89 L505.2,575.85 L505.2,574.81 L505.2,573.77 L505.2,572.74 L505.2,571.7 L505.2,570.67 L505.2,569.64 L505.2,568.61 L505.2,567.59 L505.2,566.57 L505.2,565.55 L505.2,564.53 L505.2,563.52 L505.2,562.51 L505.2,561.5 L505.2,560.5 L505.2,559.49 L505.2,558.5 L505.2,557.5 Z"/></clipPath>
<g clip-path="url(#hc4)">
<path d="M482.8,557.5 L482.8,558.5 L482.8,559.49 L482.8,560.5 L482.8,561.5 L482.8,562.51 L482.8,563.52 L482.8,564.53 L482.8,565.55 L482.8,566.57 L482.8,567.59 L482.8,568.61 L482.8,569.64 L482.8,570.67 L482.8,571.7 L482.8,572.74 L482.8,573.77 L482.8,574.81 L482.8,575.85 L482.8,576.89 L482.8,577.94 L482.8,578.98 L482.8,580.03 L482.8,581.08 L482.8,582.13 L482.8,583.19 L482.8,584.24 L482.8,585.3 L482.8,586.35 L482.8,587.41 L482.8,588.47 L482.8,589.53 L482.8,590.6 L482.8,591.66 L482.8,592.72 L482.8,593.79 L482.8,594.85 L482.8,595.92 L482.8,596.99 L482.8,598.06 L482.8,599.12 L482.8,600.19 L482.8,601.26 L482.8,602.33 L482.8,603.4 L482.8,604.47 L482.8,605.54 L482.8,606.61 L482.8,607.68 L482.8,608.75 L482.8,609.82 L482.8,610.89 L482.8,611.96 L482.8,613.03 L482.8,614.1 L482.8,615.17 L482.8,616.24 L482.8,617.3 L482.8,618.37 L482.8,619.44 L482.8,620.5 L482.8,621.56 L482.8,622.63 L482.8,623.69 L482.8,624.75 L482.8,625.81 L482.8,626.86 L482.8,627.92 L482.8,628.98 L482.8,630.03 L482.8,631.08 L482.8,632.13 L482.8,633.18 L482.8,634.23 L482.8,635.27 L482.8,636.32 L482.8,637.36 L482.8,638.4 L482.8,639.43 L482.8,640.47 L482.8,641.5 L505.2,641.5 L505.2,640.47 L505.2,639.43 L505.2,638.4 L505.2,637.36 L505.2,636.32 L505.2,635.27 L505.2,634.23 L505.2,633.18 L505.2,632.13 L505.2,631.08 L505.2,630.03 L505.2,628.98 L505.2,627.92 L505.2,626.86 L505.2,625.81 L505.2,624.75 L505.2,623.69 L505.2,622.63 L505.2,621.56 L505.2,620.5 L505.2,619.44 L505.2,618.37 L505.2,617.3 L505.2,616.24 L505.2,615.17 L505.2,614.1 L505.2,613.03 L505.2,611.96 L505.2,610.89 L505.2,609.82 L505.2,608.75 L505.2,607.68 L505.2,606.61 L505.2,605.54 L505.2,604.47 L505.2,603.4 L505.2,602.33 L505.2,601.26 L505.2,600.19 L505.2,599.12 L505.2,598.06 L505.2,596.99 L505.2,595.92 L505.2,594.85 L505.2,593.79 L505.2,592.72 L505.2,591.66 L505.2,590.6 L505.2,589.53 L505.2,588.47 L505.2,587.41 L505.2,586.35 L505.2,585.3 L505.2,584.24 L505.2,583.19 L505.2,582.13 L505.2,581.08 L505.2,580.03 L505.2,578.98 L505.2,577.94 L505.2,576.89 L505.2,575.85 L505.2,574.81 L505.2,573.77 L505.2,572.74 L505.2,571.7 L505.2,570.67 L505.2,569.64 L505.2,568.61 L505.2,567.59 L505.2,566.57 L505.2,565.55 L505.2,564.53 L505.2,563.52 L505.2,562.51 L505.2,561.5 L505.2,560.5 L505.2,559.49 L505.2,558.5 L505.2,557.5 Z" fill="#000"/>
<path d="M465.69,543.06l7.21,-7.21M465.69,551.48l7.21,-7.21M465.69,559.9l7.21,-7.21M465.69,568.32l7.21,-7.21M465.69,576.74l7.21,-7.21M465.69,585.16l7.21,-7.21M465.69,593.58l7.21,-7.21M465.69,602l7.21,-7.21M465.69,610.42l7.21,-7.21M465.69,618.84l7.21,-7.21M465.69,627.26l7.21,-7.21M465.69,635.68l7.21,-7.21M465.69,644.1l7.21,-7.21M465.69,652.52l7.21,-7.21M465.69,660.94l7.21,-7.21M474.09,540.05l7.21,7.21M474.09,548.47l7.21,7.21M474.09,556.89l7.21,7.21M474.09,565.31l7.21,7.21M474.09,573.73l7.21,7.21M474.09,582.15l7.21,7.21M474.09,590.57l7.21,7.21M474.09,598.99l7.21,7.21M474.09,607.41l7.21,7.21M474.09,615.83l7.21,7.21M474.09,624.25l7.21,7.21M474.09,632.67l7.21,7.21M474.09,641.09l7.21,7.21M474.09,649.51l7.21,7.21M482.49,543.06l7.21,-7.21M482.49,551.48l7.21,-7.21M482.49,559.9l7.21,-7.21M482.49,568.32l7.21,-7.21M482.49,576.74l7.21,-7.21M482.49,585.16l7.21,-7.21M482.49,593.58l7.21,-7.21M482.49,602l7.21,-7.21M482.49,610.42l7.21,-7.21M482.49,618.84l7.21,-7.21M482.49,627.26l7.21,-7.21M482.49,635.68l7.21,-7.21M482.49,644.1l7.21,-7.21M482.49,652.52l7.21,-7.21M482.49,660.94l7.21,-7.21M490.89,540.05l7.21,7.21M490.89,548.47l7.21,7.21M490.89,556.89l7.21,7.21M490.89,565.31l7.21,7.21M490.89,573.73l7.21,7.21M490.89,582.15l7.21,7.21M490.89,590.57l7.21,7.21M490.89,598.99l7.21,7.21M490.89,607.41l7.21,7.21M490.89,615.83l7.21,7.21M490.89,624.25l7.21,7.21M490.89,632.67l7.21,7.21M490.89,641.09l7.21,7.21M490.89,649.51l7.21,7.21M499.29,543.06l7.21,-7.21M499.29,551.48l7.21,-7.21M499.29,559.9l7.21,-7.21M499.29,568.32l7.21,-7.21M499.29,576.74l7.21,-7.21M499.29,585.16l7.21,-7.21M499.29,593.58l7.21,-7.21M499.29,602l7.21,-7.21M499.29,610.42l7.21,-7.21M499.29,618.84l7.21,-7.21M499.29,627.26l7.21,-7.21M499.29,635.68l7.21,-7.21M499.29,644.1l7.21,-7.21M499.29,652.52l7.21,-7.21M499.29,660.94l7.21,-7.21M507.69,540.05l7.21,7.21M507.69,548.47l7.21,7.21M507.69,556.89l7.21,7.21M507.69,565.31l7.21,7.21M507.69,573.73l7.21,7.21M507.69,582.15l7.21,7.21M507.69,590.57l7.21,7.21M507.69,598.99l7.21,7.21M507.69,607.41l7.21,7.21M507.69,615.83l7.21,7.21M507.69,624.25l7.21,7.21M507.69,632.67l7.21,7.21M507.69,641.09l7.21,7.21M507.69,649.51l7.21,7.21M516.09,543.06l7.21,-7.21M516.09,551.48l7.21,-7.21M516.09,559.9l7.21,-7.21M516.09,568.32l7.21,-7.21M516.09,576.74l7.21,-7.21M516.09,585.16l7.21,-7.21M516.09,593.58l7.21,-7.21M516.09,602l7.21,-7.21M516.09,610.42l7.21,-7.21M516.09,618.84l7.21,-7.21M516.09,627.26l7.21,-7.21M516.09,635.68l7.21,-7.21M516.09,644.1l7.21,-7.21M516.09,652.52l7.21,-7.21M516.09,660.94l7.21,-7.21" stroke="#fff" stroke-width="3.5" stroke-linecap="butt" fill="none"/>
</g>
<path d="M482.8,557.5 L482.8,558.5 L482.8,559.49 L482.8,560.5 L482.8,561.5 L482.8,562.51 L482.8,563.52 L482.8,564.53 L482.8,565.55 L482.8,566.57 L482.8,567.59 L482.8,568.61 L482.8,569.64 L482.8,570.67 L482.8,571.7 L482.8,572.74 L482.8,573.77 L482.8,574.81 L482.8,575.85 L482.8,576.89 L482.8,577.94 L482.8,578.98 L482.8,580.03 L482.8,581.08 L482.8,582.13 L482.8,583.19 L482.8,584.24 L482.8,585.3 L482.8,586.35 L482.8,587.41 L482.8,588.47 L482.8,589.53 L482.8,590.6 L482.8,591.66 L482.8,592.72 L482.8,593.79 L482.8,594.85 L482.8,595.92 L482.8,596.99 L482.8,598.06 L482.8,599.12 L482.8,600.19 L482.8,601.26 L482.8,602.33 L482.8,603.4 L482.8,604.47 L482.8,605.54 L482.8,606.61 L482.8,607.68 L482.8,608.75 L482.8,609.82 L482.8,610.89 L482.8,611.96 L482.8,613.03 L482.8,614.1 L482.8,615.17 L482.8,616.24 L482.8,617.3 L482.8,618.37 L482.8,619.44 L482.8,620.5 L482.8,621.56 L482.8,622.63 L482.8,623.69 L482.8,624.75 L482.8,625.81 L482.8,626.86 L482.8,627.92 L482.8,628.98 L482.8,630.03 L482.8,631.08 L482.8,632.13 L482.8,633.18 L482.8,634.23 L482.8,635.27 L482.8,636.32 L482.8,637.36 L482.8,638.4 L482.8,639.43 L482.8,640.47 L482.8,641.5 L505.2,641.5 L505.2,640.47 L505.2,639.43 L505.2,638.4 L505.2,637.36 L505.2,636.32 L505.2,635.27 L505.2,634.23 L505.2,633.18 L505.2,632.13 L505.2,631.08 L505.2,630.03 L505.2,628.98 L505.2,627.92 L505.2,626.86 L505.2,625.81 L505.2,624.75 L505.2,623.69 L505.2,622.63 L505.2,621.56 L505.2,620.5 L505.2,619.44 L505.2,618.37 L505.2,617.3 L505.2,616.24 L505.2,615.17 L505.2,614.1 L505.2,613.03 L505.2,611.96 L505.2,610.89 L505.2,609.82 L505.2,608.75 L505.2,607.68 L505.2,606.61 L505.2,605.54 L505.2,604.47 L505.2,603.4 L505.2,602.33 L505.2,601.26 L505.2,600.19 L505.2,599.12 L505.2,598.06 L505.2,596.99 L505.2,595.92 L505.2,594.85 L505.2,593.79 L505.2,592.72 L505.2,591.66 L505.2,590.6 L505.2,589.53 L505.2,588.47 L505.2,587.41 L505.2,586.35 L505.2,585.3 L505.2,584.24 L505.2,583.19 L505.2,582.13 L505.2,581.08 L505.2,580.03 L505.2,578.98 L505.2,577.94 L505.2,576.89 L505.2,575.85 L505.2,574.81 L505.2,573.77 L505.2,572.74 L505.2,571.7 L505.2,570.67 L505.2,569.64 L505.2,568.61 L505.2,567.59 L505.2,566.57 L505.2,565.55 L505.2,564.53 L505.2,563.52 L505.2,562.51 L505.2,561.5 L505.2,560.5 L505.2,559.49 L505.2,558.5 L505.2,557.5 Z" fill="none" stroke="#000" stroke-width="1.9" stroke-linejoin="round"/>
<g transform="translate(494 641.5) rotate(0)" fill="#fff" stroke="#000" stroke-width="1.85" stroke-linejoin="round">
<rect x="-10" y="31" width="20" height="10.5"/>
<path d="M-5.6,31V41.5M5.6,31V41.5" fill="none"/>
<rect x="-10.6" y="7" width="21.2" height="18.5"/>
<path d="M-5.6,8V25M5.6,8V25" fill="none"/>
<rect x="-11.6" y="25" width="23.2" height="3.8" rx="1"/>
<rect x="-10.4" y="29.7" width="20.8" height="2.3" fill="#000" stroke-width="1"/>
<path d="M-14,0H14V4.5Q14,8.4 10,8.4H-10Q-14,8.4 -14,4.5Z"/>
<g transform="translate(0 40.8)">
<path d="M-22.2,0H22.2L25.8,6V23.6L22.2,29.6H-22.2L-25.8,23.6V6Z"/>
<ellipse cx="0" cy="14.8" rx="11" ry="14.2"/>
<path d="M-11.3,0V7M-11.3,22.6V29.6M11.3,0V7M11.3,22.6V29.6" fill="none"/>
<path d="M-19.5,0.3A7,14.5 0 0 1 -19.5,29.3M19.5,0.3A7,14.5 0 0 0 19.5,29.3" fill="none"/>
</g></g>
<clipPath id="hc5"><path d="M505,547.5 L504.98,549.32 L504.98,551.13 L504.98,552.93 L504.99,554.71 L505.01,556.48 L505.04,558.24 L505.08,559.99 L505.12,561.72 L505.18,563.44 L505.25,565.14 L505.32,566.84 L505.4,568.52 L505.49,570.19 L505.59,571.85 L505.69,573.49 L505.81,575.13 L505.93,576.76 L506.06,578.37 L506.2,579.97 L506.35,581.56 L506.5,583.15 L506.66,584.72 L506.83,586.28 L507,587.83 L507.19,589.37 L507.38,590.91 L507.57,592.43 L507.78,593.94 L507.99,595.45 L508.2,596.95 L508.43,598.43 L508.66,599.91 L508.89,601.38 L509.13,602.84 L509.38,604.3 L509.64,605.74 L509.9,607.18 L510.16,608.61 L510.43,610.04 L510.71,611.46 L510.99,612.87 L511.28,614.27 L511.57,615.66 L511.87,617.05 L512.17,618.44 L512.48,619.82 L512.79,621.19 L513.11,622.55 L513.43,623.91 L513.75,625.27 L514.08,626.62 L514.42,627.96 L514.76,629.3 L515.1,630.64 L515.44,631.97 L515.79,633.29 L516.14,634.61 L516.5,635.93 L516.86,637.24 L517.22,638.55 L517.59,639.86 L517.95,641.17 L518.33,642.47 L518.7,643.76 L519.08,645.06 L519.45,646.35 L519.84,647.64 L520.22,648.93 L520.6,650.22 L520.99,651.5 L521.38,652.78 L521.77,654.07 L522.17,655.35 L522.56,656.63 L522.96,657.9 L523.36,659.18 L523.76,660.46 L524.16,661.74 L524.56,663.02 L524.96,664.29 L546.24,657.31 L545.81,656.05 L545.39,654.8 L544.96,653.55 L544.54,652.3 L544.12,651.05 L543.7,649.81 L543.28,648.57 L542.87,647.33 L542.46,646.09 L542.05,644.85 L541.64,643.61 L541.24,642.38 L540.84,641.14 L540.44,639.9 L540.04,638.67 L539.65,637.43 L539.26,636.19 L538.88,634.96 L538.49,633.72 L538.11,632.48 L537.74,631.24 L537.37,630 L537,628.75 L536.63,627.51 L536.27,626.26 L535.92,625.01 L535.56,623.75 L535.21,622.5 L534.87,621.24 L534.53,619.98 L534.19,618.71 L533.86,617.44 L533.53,616.17 L533.21,614.89 L532.89,613.61 L532.57,612.32 L532.26,611.03 L531.96,609.73 L531.66,608.43 L531.36,607.12 L531.07,605.81 L530.79,604.49 L530.51,603.16 L530.24,601.83 L529.97,600.49 L529.7,599.14 L529.45,597.78 L529.19,596.42 L528.95,595.05 L528.71,593.68 L528.47,592.29 L528.24,590.9 L528.02,589.49 L527.8,588.08 L527.59,586.66 L527.39,585.23 L527.19,583.79 L527,582.34 L526.81,580.88 L526.63,579.41 L526.46,577.93 L526.29,576.44 L526.14,574.94 L525.99,573.43 L525.84,571.9 L525.71,570.36 L525.58,568.82 L525.45,567.26 L525.34,565.68 L525.23,564.1 L525.13,562.5 L525.04,560.89 L524.96,559.26 L524.88,557.62 L524.81,555.97 L524.75,554.31 L524.7,552.63 L524.66,550.93 L524.63,549.22 L524.6,547.5 Z"/></clipPath>
<g clip-path="url(#hc5)">
<path d="M505,547.5 L504.98,549.32 L504.98,551.13 L504.98,552.93 L504.99,554.71 L505.01,556.48 L505.04,558.24 L505.08,559.99 L505.12,561.72 L505.18,563.44 L505.25,565.14 L505.32,566.84 L505.4,568.52 L505.49,570.19 L505.59,571.85 L505.69,573.49 L505.81,575.13 L505.93,576.76 L506.06,578.37 L506.2,579.97 L506.35,581.56 L506.5,583.15 L506.66,584.72 L506.83,586.28 L507,587.83 L507.19,589.37 L507.38,590.91 L507.57,592.43 L507.78,593.94 L507.99,595.45 L508.2,596.95 L508.43,598.43 L508.66,599.91 L508.89,601.38 L509.13,602.84 L509.38,604.3 L509.64,605.74 L509.9,607.18 L510.16,608.61 L510.43,610.04 L510.71,611.46 L510.99,612.87 L511.28,614.27 L511.57,615.66 L511.87,617.05 L512.17,618.44 L512.48,619.82 L512.79,621.19 L513.11,622.55 L513.43,623.91 L513.75,625.27 L514.08,626.62 L514.42,627.96 L514.76,629.3 L515.1,630.64 L515.44,631.97 L515.79,633.29 L516.14,634.61 L516.5,635.93 L516.86,637.24 L517.22,638.55 L517.59,639.86 L517.95,641.17 L518.33,642.47 L518.7,643.76 L519.08,645.06 L519.45,646.35 L519.84,647.64 L520.22,648.93 L520.6,650.22 L520.99,651.5 L521.38,652.78 L521.77,654.07 L522.17,655.35 L522.56,656.63 L522.96,657.9 L523.36,659.18 L523.76,660.46 L524.16,661.74 L524.56,663.02 L524.96,664.29 L546.24,657.31 L545.81,656.05 L545.39,654.8 L544.96,653.55 L544.54,652.3 L544.12,651.05 L543.7,649.81 L543.28,648.57 L542.87,647.33 L542.46,646.09 L542.05,644.85 L541.64,643.61 L541.24,642.38 L540.84,641.14 L540.44,639.9 L540.04,638.67 L539.65,637.43 L539.26,636.19 L538.88,634.96 L538.49,633.72 L538.11,632.48 L537.74,631.24 L537.37,630 L537,628.75 L536.63,627.51 L536.27,626.26 L535.92,625.01 L535.56,623.75 L535.21,622.5 L534.87,621.24 L534.53,619.98 L534.19,618.71 L533.86,617.44 L533.53,616.17 L533.21,614.89 L532.89,613.61 L532.57,612.32 L532.26,611.03 L531.96,609.73 L531.66,608.43 L531.36,607.12 L531.07,605.81 L530.79,604.49 L530.51,603.16 L530.24,601.83 L529.97,600.49 L529.7,599.14 L529.45,597.78 L529.19,596.42 L528.95,595.05 L528.71,593.68 L528.47,592.29 L528.24,590.9 L528.02,589.49 L527.8,588.08 L527.59,586.66 L527.39,585.23 L527.19,583.79 L527,582.34 L526.81,580.88 L526.63,579.41 L526.46,577.93 L526.29,576.44 L526.14,574.94 L525.99,573.43 L525.84,571.9 L525.71,570.36 L525.58,568.82 L525.45,567.26 L525.34,565.68 L525.23,564.1 L525.13,562.5 L525.04,560.89 L524.96,559.26 L524.88,557.62 L524.81,555.97 L524.75,554.31 L524.7,552.63 L524.66,550.93 L524.63,549.22 L524.6,547.5 Z" fill="#000"/>
<path d="M490.19,525.33l7.21,7.21M490.19,533.75l7.21,7.21M490.19,542.17l7.21,7.21M490.19,550.59l7.21,7.21M490.19,559.01l7.21,7.21M490.19,567.43l7.21,7.21M490.19,575.85l7.21,7.21M490.19,584.27l7.21,7.21M490.19,592.69l7.21,7.21M490.19,601.11l7.21,7.21M490.19,609.53l7.21,7.21M490.19,617.95l7.21,7.21M490.19,626.37l7.21,7.21M490.19,634.79l7.21,7.21M490.19,643.21l7.21,7.21M490.19,651.63l7.21,7.21M490.19,660.05l7.21,7.21M490.19,668.47l7.21,7.21M490.19,676.89l7.21,7.21M498.59,536.76l7.21,-7.21M498.59,545.18l7.21,-7.21M498.59,553.6l7.21,-7.21M498.59,562.02l7.21,-7.21M498.59,570.44l7.21,-7.21M498.59,578.86l7.21,-7.21M498.59,587.28l7.21,-7.21M498.59,595.7l7.21,-7.21M498.59,604.12l7.21,-7.21M498.59,612.54l7.21,-7.21M498.59,620.96l7.21,-7.21M498.59,629.38l7.21,-7.21M498.59,637.8l7.21,-7.21M498.59,646.22l7.21,-7.21M498.59,654.64l7.21,-7.21M498.59,663.06l7.21,-7.21M498.59,671.48l7.21,-7.21M498.59,679.9l7.21,-7.21M506.99,525.33l7.21,7.21M506.99,533.75l7.21,7.21M506.99,542.17l7.21,7.21M506.99,550.59l7.21,7.21M506.99,559.01l7.21,7.21M506.99,567.43l7.21,7.21M506.99,575.85l7.21,7.21M506.99,584.27l7.21,7.21M506.99,592.69l7.21,7.21M506.99,601.11l7.21,7.21M506.99,609.53l7.21,7.21M506.99,617.95l7.21,7.21M506.99,626.37l7.21,7.21M506.99,634.79l7.21,7.21M506.99,643.21l7.21,7.21M506.99,651.63l7.21,7.21M506.99,660.05l7.21,7.21M506.99,668.47l7.21,7.21M506.99,676.89l7.21,7.21M515.39,536.76l7.21,-7.21M515.39,545.18l7.21,-7.21M515.39,553.6l7.21,-7.21M515.39,562.02l7.21,-7.21M515.39,570.44l7.21,-7.21M515.39,578.86l7.21,-7.21M515.39,587.28l7.21,-7.21M515.39,595.7l7.21,-7.21M515.39,604.12l7.21,-7.21M515.39,612.54l7.21,-7.21M515.39,620.96l7.21,-7.21M515.39,629.38l7.21,-7.21M515.39,637.8l7.21,-7.21M515.39,646.22l7.21,-7.21M515.39,654.64l7.21,-7.21M515.39,663.06l7.21,-7.21M515.39,671.48l7.21,-7.21M515.39,679.9l7.21,-7.21M523.79,525.33l7.21,7.21M523.79,533.75l7.21,7.21M523.79,542.17l7.21,7.21M523.79,550.59l7.21,7.21M523.79,559.01l7.21,7.21M523.79,567.43l7.21,7.21M523.79,575.85l7.21,7.21M523.79,584.27l7.21,7.21M523.79,592.69l7.21,7.21M523.79,601.11l7.21,7.21M523.79,609.53l7.21,7.21M523.79,617.95l7.21,7.21M523.79,626.37l7.21,7.21M523.79,634.79l7.21,7.21M523.79,643.21l7.21,7.21M523.79,651.63l7.21,7.21M523.79,660.05l7.21,7.21M523.79,668.47l7.21,7.21M523.79,676.89l7.21,7.21M532.19,536.76l7.21,-7.21M532.19,545.18l7.21,-7.21M532.19,553.6l7.21,-7.21M532.19,562.02l7.21,-7.21M532.19,570.44l7.21,-7.21M532.19,578.86l7.21,-7.21M532.19,587.28l7.21,-7.21M532.19,595.7l7.21,-7.21M532.19,604.12l7.21,-7.21M532.19,612.54l7.21,-7.21M532.19,620.96l7.21,-7.21M532.19,629.38l7.21,-7.21M532.19,637.8l7.21,-7.21M532.19,646.22l7.21,-7.21M532.19,654.64l7.21,-7.21M532.19,663.06l7.21,-7.21M532.19,671.48l7.21,-7.21M532.19,679.9l7.21,-7.21M540.59,525.33l7.21,7.21M540.59,533.75l7.21,7.21M540.59,542.17l7.21,7.21M540.59,550.59l7.21,7.21M540.59,559.01l7.21,7.21M540.59,567.43l7.21,7.21M540.59,575.85l7.21,7.21M540.59,584.27l7.21,7.21M540.59,592.69l7.21,7.21M540.59,601.11l7.21,7.21M540.59,609.53l7.21,7.21M540.59,617.95l7.21,7.21M540.59,626.37l7.21,7.21M540.59,634.79l7.21,7.21M540.59,643.21l7.21,7.21M540.59,651.63l7.21,7.21M540.59,660.05l7.21,7.21M540.59,668.47l7.21,7.21M540.59,676.89l7.21,7.21M548.99,536.76l7.21,-7.21M548.99,545.18l7.21,-7.21M548.99,553.6l7.21,-7.21M548.99,562.02l7.21,-7.21M548.99,570.44l7.21,-7.21M548.99,578.86l7.21,-7.21M548.99,587.28l7.21,-7.21M548.99,595.7l7.21,-7.21M548.99,604.12l7.21,-7.21M548.99,612.54l7.21,-7.21M548.99,620.96l7.21,-7.21M548.99,629.38l7.21,-7.21M548.99,637.8l7.21,-7.21M548.99,646.22l7.21,-7.21M548.99,654.64l7.21,-7.21M548.99,663.06l7.21,-7.21M548.99,671.48l7.21,-7.21M548.99,679.9l7.21,-7.21M557.39,525.33l7.21,7.21M557.39,533.75l7.21,7.21M557.39,542.17l7.21,7.21M557.39,550.59l7.21,7.21M557.39,559.01l7.21,7.21M557.39,567.43l7.21,7.21M557.39,575.85l7.21,7.21M557.39,584.27l7.21,7.21M557.39,592.69l7.21,7.21M557.39,601.11l7.21,7.21M557.39,609.53l7.21,7.21M557.39,617.95l7.21,7.21M557.39,626.37l7.21,7.21M557.39,634.79l7.21,7.21M557.39,643.21l7.21,7.21M557.39,651.63l7.21,7.21M557.39,660.05l7.21,7.21M557.39,668.47l7.21,7.21M557.39,676.89l7.21,7.21" stroke="#fff" stroke-width="3.5" stroke-linecap="butt" fill="none"/>
</g>
<path d="M505,547.5 L504.98,549.32 L504.98,551.13 L504.98,552.93 L504.99,554.71 L505.01,556.48 L505.04,558.24 L505.08,559.99 L505.12,561.72 L505.18,563.44 L505.25,565.14 L505.32,566.84 L505.4,568.52 L505.49,570.19 L505.59,571.85 L505.69,573.49 L505.81,575.13 L505.93,576.76 L506.06,578.37 L506.2,579.97 L506.35,581.56 L506.5,583.15 L506.66,584.72 L506.83,586.28 L507,587.83 L507.19,589.37 L507.38,590.91 L507.57,592.43 L507.78,593.94 L507.99,595.45 L508.2,596.95 L508.43,598.43 L508.66,599.91 L508.89,601.38 L509.13,602.84 L509.38,604.3 L509.64,605.74 L509.9,607.18 L510.16,608.61 L510.43,610.04 L510.71,611.46 L510.99,612.87 L511.28,614.27 L511.57,615.66 L511.87,617.05 L512.17,618.44 L512.48,619.82 L512.79,621.19 L513.11,622.55 L513.43,623.91 L513.75,625.27 L514.08,626.62 L514.42,627.96 L514.76,629.3 L515.1,630.64 L515.44,631.97 L515.79,633.29 L516.14,634.61 L516.5,635.93 L516.86,637.24 L517.22,638.55 L517.59,639.86 L517.95,641.17 L518.33,642.47 L518.7,643.76 L519.08,645.06 L519.45,646.35 L519.84,647.64 L520.22,648.93 L520.6,650.22 L520.99,651.5 L521.38,652.78 L521.77,654.07 L522.17,655.35 L522.56,656.63 L522.96,657.9 L523.36,659.18 L523.76,660.46 L524.16,661.74 L524.56,663.02 L524.96,664.29 L546.24,657.31 L545.81,656.05 L545.39,654.8 L544.96,653.55 L544.54,652.3 L544.12,651.05 L543.7,649.81 L543.28,648.57 L542.87,647.33 L542.46,646.09 L542.05,644.85 L541.64,643.61 L541.24,642.38 L540.84,641.14 L540.44,639.9 L540.04,638.67 L539.65,637.43 L539.26,636.19 L538.88,634.96 L538.49,633.72 L538.11,632.48 L537.74,631.24 L537.37,630 L537,628.75 L536.63,627.51 L536.27,626.26 L535.92,625.01 L535.56,623.75 L535.21,622.5 L534.87,621.24 L534.53,619.98 L534.19,618.71 L533.86,617.44 L533.53,616.17 L533.21,614.89 L532.89,613.61 L532.57,612.32 L532.26,611.03 L531.96,609.73 L531.66,608.43 L531.36,607.12 L531.07,605.81 L530.79,604.49 L530.51,603.16 L530.24,601.83 L529.97,600.49 L529.7,599.14 L529.45,597.78 L529.19,596.42 L528.95,595.05 L528.71,593.68 L528.47,592.29 L528.24,590.9 L528.02,589.49 L527.8,588.08 L527.59,586.66 L527.39,585.23 L527.19,583.79 L527,582.34 L526.81,580.88 L526.63,579.41 L526.46,577.93 L526.29,576.44 L526.14,574.94 L525.99,573.43 L525.84,571.9 L525.71,570.36 L525.58,568.82 L525.45,567.26 L525.34,565.68 L525.23,564.1 L525.13,562.5 L525.04,560.89 L524.96,559.26 L524.88,557.62 L524.81,555.97 L524.75,554.31 L524.7,552.63 L524.66,550.93 L524.63,549.22 L524.6,547.5 Z" fill="none" stroke="#000" stroke-width="1.9" stroke-linejoin="round"/>
<g transform="translate(535.6 660.8) rotate(-16.2)" fill="#fff" stroke="#000" stroke-width="1.85" stroke-linejoin="round">
<rect x="-10" y="31" width="20" height="12.2"/>
<path d="M-5.6,31V43.2M5.6,31V43.2" fill="none"/>
<rect x="-10.6" y="7" width="21.2" height="18.5"/>
<path d="M-5.6,8V25M5.6,8V25" fill="none"/>
<rect x="-11.6" y="25" width="23.2" height="3.8" rx="1"/>
<rect x="-10.4" y="29.7" width="20.8" height="2.3" fill="#000" stroke-width="1"/>
<path d="M-14,0H14V4.5Q14,8.4 10,8.4H-10Q-14,8.4 -14,4.5Z"/>
<g transform="translate(0 42.5)">
<path d="M-22.2,0H22.2L25.8,6V23.6L22.2,29.6H-22.2L-25.8,23.6V6Z"/>
<ellipse cx="0" cy="14.8" rx="11" ry="14.2"/>
<path d="M-11.3,0V7M-11.3,22.6V29.6M11.3,0V7M11.3,22.6V29.6" fill="none"/>
<path d="M-19.5,0.3A7,14.5 0 0 1 -19.5,29.3M19.5,0.3A7,14.5 0 0 0 19.5,29.3" fill="none"/>
</g></g>
<line x1="557.75" y1="598.5" x2="580.97" y2="661.9" stroke="#000" stroke-width="5.6" />
<polygon points="590.25,687.25 572.5,663.93 588.74,657.98" fill="#000"/>
<line x1="491" y1="788" x2="491" y2="744.9" stroke="#000" stroke-width="5.8" />
<polygon points="491,717.4 499.75,745.9 482.25,745.9" fill="#000"/>
<path d="M1020.2,453.2V72.8Q1049,64.8 1077.8,72.8V453.2" fill="none" stroke="#000" stroke-width="1.9" />
<line x1="1020.2" y1="76.8" x2="1077.8" y2="76.8" stroke="#000" stroke-width="1.5" />
<line x1="1020.2" y1="102.6" x2="1077.8" y2="102.6" stroke="#000" stroke-width="1.9" />
<line x1="1020.2" y1="202.6" x2="1077.8" y2="202.6" stroke="#000" stroke-width="1.9" />
<line x1="1020.2" y1="212.6" x2="1077.8" y2="212.6" stroke="#000" stroke-width="1.9" />
<line x1="1020.2" y1="451.2" x2="1077.8" y2="451.2" stroke="#000" stroke-width="1.3" />
<line x1="1020.2" y1="453.3" x2="1077.8" y2="453.3" stroke="#000" stroke-width="1.3" />
<rect x="1027.1" y="111.9" width="3.8" height="5.6" rx="1.2" fill="#000"/>
<rect x="1027.1" y="121.45" width="3.8" height="5.6" rx="1.2" fill="#000"/>
<rect x="1027.1" y="131" width="3.8" height="5.6" rx="1.2" fill="#000"/>
<rect x="1027.1" y="140.55" width="3.8" height="5.6" rx="1.2" fill="#000"/>
<rect x="1027.1" y="150.1" width="3.8" height="5.6" rx="1.2" fill="#000"/>
<rect x="1027.1" y="159.65" width="3.8" height="5.6" rx="1.2" fill="#000"/>
<rect x="1027.1" y="169.2" width="3.8" height="5.6" rx="1.2" fill="#000"/>
<rect x="1027.1" y="178.75" width="3.8" height="5.6" rx="1.2" fill="#000"/>
<rect x="1027.1" y="188.3" width="3.8" height="5.6" rx="1.2" fill="#000"/>
<rect x="1036.7" y="111.9" width="3.8" height="5.6" rx="1.2" fill="#000"/>
<rect x="1036.7" y="121.45" width="3.8" height="5.6" rx="1.2" fill="#000"/>
<rect x="1036.7" y="131" width="3.8" height="5.6" rx="1.2" fill="#000"/>
<rect x="1036.7" y="140.55" width="3.8" height="5.6" rx="1.2" fill="#000"/>
<rect x="1036.7" y="150.1" width="3.8" height="5.6" rx="1.2" fill="#000"/>
<rect x="1036.7" y="159.65" width="3.8" height="5.6" rx="1.2" fill="#000"/>
<rect x="1036.7" y="169.2" width="3.8" height="5.6" rx="1.2" fill="#000"/>
<rect x="1036.7" y="178.75" width="3.8" height="5.6" rx="1.2" fill="#000"/>
<rect x="1036.7" y="188.3" width="3.8" height="5.6" rx="1.2" fill="#000"/>
<rect x="1046.3" y="111.9" width="3.8" height="5.6" rx="1.2" fill="#000"/>
<rect x="1046.3" y="121.45" width="3.8" height="5.6" rx="1.2" fill="#000"/>
<rect x="1046.3" y="131" width="3.8" height="5.6" rx="1.2" fill="#000"/>
<rect x="1046.3" y="140.55" width="3.8" height="5.6" rx="1.2" fill="#000"/>
<rect x="1046.3" y="150.1" width="3.8" height="5.6" rx="1.2" fill="#000"/>
<rect x="1046.3" y="159.65" width="3.8" height="5.6" rx="1.2" fill="#000"/>
<rect x="1046.3" y="169.2" width="3.8" height="5.6" rx="1.2" fill="#000"/>
<rect x="1046.3" y="178.75" width="3.8" height="5.6" rx="1.2" fill="#000"/>
<rect x="1046.3" y="188.3" width="3.8" height="5.6" rx="1.2" fill="#000"/>
<rect x="1055.9" y="111.9" width="3.8" height="5.6" rx="1.2" fill="#000"/>
<rect x="1055.9" y="121.45" width="3.8" height="5.6" rx="1.2" fill="#000"/>
<rect x="1055.9" y="131" width="3.8" height="5.6" rx="1.2" fill="#000"/>
<rect x="1055.9" y="140.55" width="3.8" height="5.6" rx="1.2" fill="#000"/>
<rect x="1055.9" y="150.1" width="3.8" height="5.6" rx="1.2" fill="#000"/>
<rect x="1055.9" y="159.65" width="3.8" height="5.6" rx="1.2" fill="#000"/>
<rect x="1055.9" y="169.2" width="3.8" height="5.6" rx="1.2" fill="#000"/>
<rect x="1055.9" y="178.75" width="3.8" height="5.6" rx="1.2" fill="#000"/>
<rect x="1055.9" y="188.3" width="3.8" height="5.6" rx="1.2" fill="#000"/>
<rect x="1065.5" y="111.9" width="3.8" height="5.6" rx="1.2" fill="#000"/>
<rect x="1065.5" y="121.45" width="3.8" height="5.6" rx="1.2" fill="#000"/>
<rect x="1065.5" y="131" width="3.8" height="5.6" rx="1.2" fill="#000"/>
<rect x="1065.5" y="140.55" width="3.8" height="5.6" rx="1.2" fill="#000"/>
<rect x="1065.5" y="150.1" width="3.8" height="5.6" rx="1.2" fill="#000"/>
<rect x="1065.5" y="159.65" width="3.8" height="5.6" rx="1.2" fill="#000"/>
<rect x="1065.5" y="169.2" width="3.8" height="5.6" rx="1.2" fill="#000"/>
<rect x="1065.5" y="178.75" width="3.8" height="5.6" rx="1.2" fill="#000"/>
<rect x="1065.5" y="188.3" width="3.8" height="5.6" rx="1.2" fill="#000"/>
<rect x="1000.3" y="454.4" width="95.4" height="11.2" rx="0" fill="none" stroke="#000" stroke-width="1.9"/>
<path d="M1020.7,465.6V529.3Q1020.7,532.1 1023.5,532.1H1073.5Q1076.3,532.1 1076.3,529.3V465.6" fill="none" stroke="#000" stroke-width="3.1" />
<line x1="1105.6" y1="465.6" x2="1136.5" y2="465.6" stroke="#2a2a2a" stroke-width="0.85" />
<line x1="1086.3" y1="530.9" x2="1136.5" y2="530.9" stroke="#2a2a2a" stroke-width="0.85" />
<line x1="1132.5" y1="465.6" x2="1132.5" y2="530.9" stroke="#2a2a2a" stroke-width="0.85" />
<polygon points="1132.5,465.6 1136.5,488.6 1128.5,488.6" fill="#000"/>
<polygon points="1132.5,530.9 1128.5,507.9 1136.5,507.9" fill="#000"/>
<text x="1132" y="513.5" font-family="'Liberation Sans', sans-serif" font-size="31.5" font-weight="normal" text-anchor="start" fill="#111" stroke="#fff" stroke-width="0.75" textLength="31" lengthAdjust="spacingAndGlyphs" transform="rotate(-90 1132 513.5)">30</text>
<line x1="1019.4" y1="539.8" x2="1019.4" y2="558.7" stroke="#2a2a2a" stroke-width="0.85" />
<line x1="1077.4" y1="539.8" x2="1077.4" y2="558.7" stroke="#2a2a2a" stroke-width="0.85" />
<line x1="1019.4" y1="554.2" x2="1136.5" y2="554.2" stroke="#2a2a2a" stroke-width="0.85" />
<polygon points="1019.6,554.2 1042.4,549.95 1042.4,558.45" fill="#000"/>
<polygon points="1077.2,554.2 1054.4,558.45 1054.4,549.95" fill="#000"/>
<text x="1101.4" y="554" font-family="'Liberation Sans', sans-serif" font-size="30.5" font-weight="normal" text-anchor="start" fill="#111" stroke="#fff" stroke-width="0.75" textLength="35.6" lengthAdjust="spacingAndGlyphs">28</text>
<path d="M227.8,744.8C229.12,748.38 233.25,759.6 235.7,766.3C238.15,773 239.91,778.13 242.5,785C245.09,791.87 247.71,799.38 251.25,807.5C254.79,815.62 259.38,825.83 263.75,833.75C268.12,841.67 272.5,848.75 277.5,855C282.5,861.25 287.92,866.54 293.75,871.25C299.58,875.96 306.04,880 312.5,883.25C318.96,886.5 325.83,888.88 332.5,890.75C339.17,892.62 346.25,893.67 352.5,894.5C358.75,895.33 363.75,895.75 370,895.75C376.25,895.75 383.33,895.33 390,894.5C396.67,893.67 403.75,892.33 410,890.75C416.25,889.17 421.25,887.83 427.5,885C433.75,882.17 441.25,877.29 447.5,873.75C453.75,870.21 459.58,867.5 465,863.75C470.42,860 476.25,855.21 480,851.25C483.75,847.29 485.71,844.38 487.5,840C489.29,835.62 490,830 490.75,825C491.5,820 491.71,814.67 492,810C492.29,805.33 492.42,799.17 492.5,797" fill="none" stroke="#000" stroke-width="1.9" stroke-dasharray="12.6 1.1"/>
<path d="M556.25,731.25C557.29,734.79 560,744.79 562.5,752.5C565,760.21 567.92,769.58 571.25,777.5C574.58,785.42 578.33,792.92 582.5,800C586.67,807.08 591.25,813.96 596.25,820C601.25,826.04 606.46,831.04 612.5,836.25C618.54,841.46 625.83,847.08 632.5,851.25C639.17,855.42 645.42,858.33 652.5,861.25C659.58,864.17 667.5,866.96 675,868.75C682.5,870.54 689.58,871.25 697.5,872C705.42,872.75 714.17,873.25 722.5,873.25C730.83,873.25 739.58,872.62 747.5,872C755.42,871.38 761.25,870.58 770,869.5C778.75,868.42 792.5,866.67 800,865.5C807.5,864.33 808.33,863.83 815,862.5C821.67,861.17 831.67,859.29 840,857.5C848.33,855.71 856.67,854.04 865,851.75C873.33,849.46 882.5,846.62 890,843.75C897.5,840.88 903.75,837.83 910,834.5C916.25,831.17 922.08,827.62 927.5,823.75C932.92,819.88 937.92,815.62 942.5,811.25C947.08,806.88 950.83,802.71 955,797.5C959.17,792.29 963.75,785.62 967.5,780C971.25,774.38 974.33,769 977.5,763.75C980.67,758.5 985,751.04 986.5,748.5" fill="none" stroke="#000" stroke-width="1.9" stroke-dasharray="12.6 1.1"/>
<path d="M1048.5,533.6C1048.62,538.8 1049.12,554.73 1049.2,564.8C1049.28,574.87 1049.4,583.92 1049,594C1048.6,604.08 1047.72,615.97 1046.8,625.3C1045.88,634.63 1044.92,641.83 1043.5,650C1042.08,658.17 1039.17,670.25 1038.3,674.3" fill="none" stroke="#000" stroke-width="1.9" stroke-dasharray="5 0.9" stroke-dashoffset="-6"/>
<g transform="translate(1017.75 712.5) rotate(-52)">
<ellipse cx="0" cy="0" rx="48" ry="39.5" fill="#fff" stroke="#000" stroke-width="1.6"/>
<ellipse cx="0" cy="0" rx="45" ry="36.5" fill="none" stroke="#000" stroke-width="1.5"/>
</g>
<g fill="#000"><circle cx="1021.34" cy="699.07" r="0.5"/><circle cx="991.82" cy="717.6" r="0.5"/><circle cx="990.07" cy="725.24" r="0.5"/><circle cx="1025.46" cy="702.17" r="0.7"/><circle cx="1025.91" cy="726.39" r="0.8"/><circle cx="1024.19" cy="724.4" r="1.1"/><circle cx="1035.79" cy="705.26" r="0.8"/><circle cx="1003.91" cy="687.34" r="0.6"/><circle cx="1037.65" cy="686.91" r="1.7"/><circle cx="997.77" cy="712.01" r="0.8"/><circle cx="1040.69" cy="691.29" r="0.6"/><circle cx="1043.46" cy="677.7" r="1.1"/><circle cx="1001.76" cy="697.52" r="1.1"/><circle cx="1025.74" cy="708.12" r="0.6"/><circle cx="1037.9" cy="727.21" r="1.1"/><circle cx="996.21" cy="701.08" r="0.8"/><circle cx="1006.84" cy="749.64" r="0.6"/><circle cx="984.39" cy="702.66" r="0.7"/><circle cx="1009.28" cy="698.38" r="0.9"/><circle cx="991.08" cy="711" r="1.7"/><circle cx="982.32" cy="715.96" r="1.7"/><circle cx="1036.8" cy="714.05" r="1.7"/><circle cx="1033.25" cy="736.48" r="1.1"/><circle cx="1006.99" cy="702.4" r="0.6"/><circle cx="1015.9" cy="702.54" r="0.7"/><circle cx="1002.49" cy="698.92" r="0.6"/><circle cx="1042.72" cy="736.54" r="1.1"/><circle cx="1020.58" cy="677.16" r="1.4"/><circle cx="997.56" cy="726.79" r="0.6"/><circle cx="1037.37" cy="688.61" r="0.8"/><circle cx="990.03" cy="716.66" r="1.4"/><circle cx="1000.72" cy="684.8" r="0.7"/><circle cx="1041.74" cy="685.17" r="1.4"/><circle cx="1017.03" cy="735.6" r="0.5"/><circle cx="1046.76" cy="709.72" r="0.7"/><circle cx="1004.21" cy="684.55" r="0.7"/><circle cx="1014.76" cy="696.27" r="1.1"/><circle cx="1051.79" cy="710.45" r="0.8"/><circle cx="1015.55" cy="680.35" r="0.8"/><circle cx="1039.93" cy="708.82" r="0.6"/><circle cx="1040.23" cy="679.5" r="0.6"/><circle cx="1014.29" cy="728.09" r="1.7"/><circle cx="1033.48" cy="697.54" r="1.4"/><circle cx="1017.87" cy="738.87" r="0.8"/><circle cx="993.69" cy="704.4" r="0.6"/><circle cx="1049.25" cy="714.18" r="1.4"/><circle cx="1018.8" cy="749.78" r="0.6"/><circle cx="1028.61" cy="740.1" r="0.6"/><circle cx="984.98" cy="709.85" r="0.6"/><circle cx="1023.4" cy="695.1" r="1.4"/><circle cx="1020.82" cy="710.75" r="0.6"/><circle cx="1018.57" cy="743.24" r="1.4"/><circle cx="993.71" cy="718.45" r="0.7"/><circle cx="983.19" cy="734.11" r="0.8"/><circle cx="1010.9" cy="714.06" r="0.8"/><circle cx="1009.88" cy="698.16" r="0.6"/><circle cx="1023.16" cy="706.55" r="0.5"/><circle cx="1006.18" cy="714.24" r="0.7"/><circle cx="1045.65" cy="689.54" r="0.6"/><circle cx="1008.34" cy="716.16" r="1.4"/><circle cx="1024.81" cy="732.54" r="0.6"/><circle cx="995.66" cy="742.46" r="0.6"/><circle cx="1054.03" cy="707.88" r="0.8"/><circle cx="1020.86" cy="683.09" r="1.1"/><circle cx="1017.76" cy="680.29" r="0.8"/><circle cx="1019.17" cy="687.07" r="1.1"/><circle cx="1010.97" cy="712" r="0.9"/><circle cx="1040.63" cy="676.47" r="0.8"/><circle cx="1055.74" cy="705.57" r="0.5"/><circle cx="995.94" cy="686.72" r="0.7"/><circle cx="1004.16" cy="695.39" r="1.4"/><circle cx="1033.35" cy="687.32" r="0.5"/><circle cx="982.14" cy="721.18" r="0.9"/><circle cx="991.03" cy="721.06" r="1.4"/><circle cx="1027.41" cy="738.93" r="1.1"/><circle cx="982.7" cy="734.92" r="0.6"/><circle cx="981.68" cy="714.88" r="1.4"/><circle cx="1024.6" cy="743.79" r="0.5"/><circle cx="1050.39" cy="720.91" r="0.7"/><circle cx="1005.41" cy="707.64" r="0.5"/><circle cx="1030.53" cy="725.12" r="0.7"/><circle cx="1018.05" cy="716.02" r="1.4"/><circle cx="994.31" cy="735.43" r="0.7"/><circle cx="990.82" cy="727.49" r="1.1"/><circle cx="1017.14" cy="700.76" r="1.1"/><circle cx="987.58" cy="722.47" r="0.8"/><circle cx="993.14" cy="736.82" r="0.7"/><circle cx="1029.87" cy="675.84" r="1.1"/><circle cx="1034.95" cy="731.72" r="1.1"/><circle cx="996.84" cy="714.15" r="1.1"/><circle cx="1014.34" cy="739.22" r="1.4"/><circle cx="1013.65" cy="744.49" r="1.1"/><circle cx="1042.5" cy="688.68" r="0.8"/><circle cx="1018.62" cy="751.19" r="0.8"/><circle cx="1012.83" cy="692.7" r="0.6"/><circle cx="1009.37" cy="700.11" r="0.6"/><circle cx="996.73" cy="699.72" r="0.9"/><circle cx="1006.77" cy="749.5" r="0.6"/><circle cx="1003.82" cy="705.31" r="0.7"/><circle cx="1053.18" cy="690.56" r="0.5"/><circle cx="1051.22" cy="691.06" r="0.6"/><circle cx="992.68" cy="689.07" r="1.4"/><circle cx="999.31" cy="739.82" r="0.9"/><circle cx="1040.99" cy="707.59" r="0.6"/><circle cx="1032.2" cy="691.12" r="0.5"/><circle cx="984.83" cy="703.99" r="0.7"/><circle cx="997.53" cy="736.4" r="0.7"/><circle cx="1008.37" cy="686.37" r="1.1"/><circle cx="1023.48" cy="701.94" r="0.6"/><circle cx="1017.81" cy="743.68" r="1.4"/><circle cx="993.59" cy="719.46" r="0.5"/><circle cx="1042.72" cy="703.78" r="0.9"/><circle cx="1042.33" cy="683.5" r="0.7"/><circle cx="980.34" cy="712.84" r="0.7"/><circle cx="1006.21" cy="727.08" r="0.9"/><circle cx="1019.99" cy="730.71" r="1.1"/><circle cx="1030.4" cy="715.33" r="0.9"/><circle cx="1026.04" cy="701.31" r="0.7"/><circle cx="995.61" cy="694.14" r="0.7"/><circle cx="1015.28" cy="685.98" r="0.7"/><circle cx="990.53" cy="704.93" r="0.8"/><circle cx="1001.56" cy="704.56" r="0.9"/><circle cx="987.56" cy="742.21" r="1.4"/><circle cx="987.79" cy="739.09" r="0.7"/><circle cx="1043.8" cy="691.99" r="1.7"/><circle cx="1017.33" cy="681.23" r="0.7"/><circle cx="1009.29" cy="733.49" r="0.6"/><circle cx="1007.08" cy="752.32" r="0.8"/><circle cx="1034.19" cy="700.36" r="0.8"/><circle cx="1043.63" cy="700.51" r="0.7"/><circle cx="1049.95" cy="705.74" r="0.5"/><circle cx="1038.28" cy="682.07" r="1.4"/><circle cx="1004.17" cy="752.2" r="0.5"/><circle cx="1030.92" cy="687.3" r="0.9"/><circle cx="993.45" cy="737.23" r="1.7"/><circle cx="1001.66" cy="689.73" r="1.7"/><circle cx="997.49" cy="734.66" r="1.7"/><circle cx="991.14" cy="710.02" r="1.1"/><circle cx="992.85" cy="705.49" r="1.1"/><circle cx="981.02" cy="712.15" r="0.5"/><circle cx="1028.48" cy="695.28" r="0.8"/><circle cx="1013.83" cy="740.88" r="1.7"/><circle cx="1043.04" cy="687.23" r="0.6"/><circle cx="1032.7" cy="710.67" r="1.4"/><circle cx="1038.73" cy="707.2" r="0.7"/><circle cx="1021.61" cy="739.89" r="0.6"/><circle cx="1045.73" cy="691.89" r="0.7"/><circle cx="1024.44" cy="699.8" r="0.7"/><circle cx="1000.38" cy="702.11" r="0.7"/><circle cx="1018.48" cy="685.64" r="0.6"/><circle cx="1004.97" cy="749.11" r="1.1"/><circle cx="1028.05" cy="740" r="0.5"/><circle cx="1029.74" cy="684.26" r="0.8"/><circle cx="1008.65" cy="699.68" r="1.7"/><circle cx="998.97" cy="682.84" r="1.1"/><circle cx="1022.76" cy="726.42" r="0.6"/><circle cx="1033.06" cy="702.28" r="0.7"/><circle cx="1008.73" cy="690.83" r="0.7"/><circle cx="1032.2" cy="701.57" r="0.9"/><circle cx="1049.79" cy="703.12" r="0.8"/><circle cx="1013.84" cy="678.75" r="0.5"/><circle cx="1048.4" cy="702.17" r="1.7"/><circle cx="1029.97" cy="699.58" r="1.4"/><circle cx="1048.22" cy="692.66" r="0.5"/><circle cx="1029.78" cy="744.96" r="0.6"/><circle cx="1029.86" cy="723.97" r="0.7"/><circle cx="989.56" cy="702.47" r="1.4"/><circle cx="1034.98" cy="729.29" r="0.8"/><circle cx="979.52" cy="722.45" r="1.4"/><circle cx="1032.65" cy="693.32" r="0.7"/><circle cx="1010.32" cy="728.38" r="1.1"/><circle cx="1018.11" cy="680.38" r="0.5"/><circle cx="1029.64" cy="711.45" r="0.7"/><circle cx="1012.43" cy="724.36" r="1.1"/><circle cx="1003.61" cy="699.03" r="1.1"/><circle cx="1018.18" cy="728.21" r="0.5"/><circle cx="1018.14" cy="700.29" r="0.6"/><circle cx="1029.16" cy="731.75" r="0.6"/><circle cx="1043.37" cy="678.38" r="1.7"/><circle cx="995.25" cy="744.06" r="0.6"/><circle cx="1015.76" cy="721.69" r="1.7"/><circle cx="1018.35" cy="694.41" r="0.5"/><circle cx="987.64" cy="702.85" r="0.7"/><circle cx="1031.38" cy="698.48" r="1.1"/><circle cx="1023.27" cy="720.5" r="0.6"/><circle cx="992.95" cy="716.07" r="0.9"/><circle cx="1041.54" cy="699.65" r="0.9"/><circle cx="1003.78" cy="738.96" r="1.1"/><circle cx="990.75" cy="724.04" r="0.5"/><circle cx="997.39" cy="714.11" r="0.7"/><circle cx="1026.34" cy="728.87" r="0.8"/><circle cx="1041.05" cy="737.21" r="0.7"/><circle cx="982.69" cy="724.11" r="0.9"/><circle cx="1009.52" cy="698.91" r="0.5"/><circle cx="990.18" cy="720.86" r="1.7"/><circle cx="1038.5" cy="707.59" r="0.6"/><circle cx="1045.97" cy="702.7" r="0.7"/><circle cx="1027.22" cy="720.35" r="1.7"/><circle cx="1008.35" cy="686.27" r="0.5"/><circle cx="1029.01" cy="728.18" r="0.7"/><circle cx="1028.56" cy="713.19" r="0.9"/><circle cx="998.69" cy="692.53" r="0.5"/><circle cx="1015.54" cy="716.34" r="0.9"/><circle cx="1014.28" cy="736.68" r="1.1"/><circle cx="993.89" cy="726.9" r="0.6"/><circle cx="1001.3" cy="737.47" r="0.7"/><circle cx="1038.92" cy="689.1" r="1.4"/><circle cx="1035.67" cy="731.07" r="1.4"/><circle cx="986.94" cy="701.37" r="1.7"/><circle cx="1030.82" cy="731.78" r="1.4"/><circle cx="1014.7" cy="746.47" r="0.5"/><circle cx="1053.5" cy="706.22" r="0.7"/><circle cx="1024.78" cy="693.28" r="0.7"/><circle cx="1006.91" cy="721.03" r="1.7"/><circle cx="1031.14" cy="732.2" r="0.5"/><circle cx="1004.09" cy="744.26" r="1.4"/><circle cx="1048.95" cy="725.92" r="0.7"/><circle cx="1015.46" cy="675.77" r="0.7"/><circle cx="997.2" cy="696.15" r="0.7"/><circle cx="996.01" cy="734.08" r="0.8"/><circle cx="1027.95" cy="710.11" r="0.7"/><circle cx="1009.04" cy="706.14" r="0.6"/><circle cx="1002.43" cy="732.97" r="1.4"/><circle cx="1024.36" cy="733.94" r="0.6"/><circle cx="1025.2" cy="691.21" r="0.9"/><circle cx="1016.9" cy="742.18" r="0.6"/><circle cx="1025.55" cy="678.39" r="0.7"/><circle cx="1044.43" cy="711.53" r="1.4"/><circle cx="1046.44" cy="725.29" r="0.8"/><circle cx="1009.96" cy="727.09" r="0.8"/><circle cx="1005.68" cy="750.9" r="0.7"/><circle cx="1027.16" cy="731.42" r="1.7"/><circle cx="1032.38" cy="697.35" r="0.8"/><circle cx="1019.92" cy="749.3" r="1.1"/><circle cx="1033.96" cy="736.7" r="0.6"/><circle cx="1014.07" cy="731.41" r="0.7"/><circle cx="1025.67" cy="675.11" r="1.1"/><circle cx="1032.02" cy="732.16" r="1.4"/><circle cx="992.51" cy="695.16" r="1.4"/><circle cx="1002.61" cy="686.12" r="0.7"/><circle cx="1033.54" cy="682.04" r="0.6"/><circle cx="1041.08" cy="705.99" r="0.7"/><circle cx="1053.18" cy="706.15" r="0.7"/><circle cx="1017.8" cy="725.74" r="1.1"/><circle cx="1037.87" cy="721.24" r="0.9"/><circle cx="1031.92" cy="720.88" r="0.7"/><circle cx="1035.71" cy="726.65" r="1.1"/><circle cx="1011" cy="688.48" r="0.6"/><circle cx="1007.76" cy="733.76" r="0.6"/><circle cx="992.76" cy="704.86" r="1.1"/><circle cx="1019.58" cy="728.61" r="0.6"/><circle cx="987.73" cy="697.32" r="1.7"/><circle cx="1013.43" cy="683" r="1.1"/><circle cx="1018.97" cy="726.43" r="0.8"/><circle cx="1019.92" cy="703.53" r="1.1"/><circle cx="988.76" cy="730.94" r="0.9"/><circle cx="1040.66" cy="723.9" r="0.5"/><circle cx="993" cy="700.68" r="0.5"/><circle cx="1009.8" cy="732.33" r="0.8"/><circle cx="1025.77" cy="673.43" r="0.7"/><circle cx="1020.46" cy="684.39" r="0.9"/><circle cx="1013.96" cy="678.95" r="0.6"/><circle cx="1048.71" cy="725.93" r="1.1"/><circle cx="1031.97" cy="734.57" r="0.6"/><circle cx="1003.06" cy="726.38" r="0.9"/><circle cx="1014.56" cy="691.93" r="1.4"/><circle cx="1032.71" cy="740.48" r="1.1"/><circle cx="1003.22" cy="747.57" r="0.7"/><circle cx="1038.17" cy="731.25" r="0.9"/><circle cx="1035.63" cy="710.66" r="0.7"/><circle cx="1003.55" cy="727.94" r="0.8"/><circle cx="1015.71" cy="705.35" r="0.6"/><circle cx="1033.68" cy="698.74" r="0.7"/><circle cx="1045.38" cy="697.14" r="0.6"/><circle cx="988.6" cy="702.75" r="1.4"/><circle cx="1028.59" cy="740.63" r="1.4"/><circle cx="987.49" cy="731.78" r="1.4"/><circle cx="1034.87" cy="674.2" r="0.6"/><circle cx="981.68" cy="711.81" r="0.5"/><circle cx="1037.79" cy="687.16" r="0.6"/><circle cx="1021.7" cy="748.79" r="0.5"/><circle cx="1037.34" cy="712.26" r="0.7"/><circle cx="1051.81" cy="700" r="0.9"/><circle cx="985.8" cy="698.54" r="0.5"/><circle cx="1016.17" cy="738.22" r="0.6"/><circle cx="1030.28" cy="696.36" r="0.8"/><circle cx="1001.88" cy="740.35" r="1.4"/><circle cx="1044.81" cy="683.57" r="0.9"/><circle cx="1001.95" cy="687.66" r="0.5"/><circle cx="1050.42" cy="691.79" r="1.1"/><circle cx="1008.12" cy="712.87" r="0.7"/><circle cx="1055.05" cy="696.98" r="0.7"/><circle cx="1033.21" cy="741.7" r="0.8"/><circle cx="986.98" cy="733.82" r="0.6"/><circle cx="1026.4" cy="725.98" r="0.5"/><circle cx="1007.64" cy="717.93" r="0.9"/><circle cx="1028.62" cy="728.3" r="1.4"/><circle cx="1029.42" cy="725.18" r="1.7"/><circle cx="1030.28" cy="679.89" r="0.6"/><circle cx="1054.67" cy="704.66" r="0.6"/><circle cx="1004.64" cy="744.76" r="0.7"/><circle cx="1023.96" cy="688.3" r="0.7"/><circle cx="1017.53" cy="714.72" r="0.6"/><circle cx="1045.13" cy="704.61" r="0.9"/><circle cx="1006.46" cy="721.7" r="0.6"/><circle cx="1015.29" cy="703.74" r="0.6"/><circle cx="995.29" cy="719.4" r="1.1"/><circle cx="1041.11" cy="681.24" r="0.5"/><circle cx="1004.34" cy="737.22" r="0.6"/><circle cx="1030.61" cy="733.42" r="1.1"/><circle cx="1029.57" cy="701.39" r="0.7"/><circle cx="1040.69" cy="679.1" r="1.1"/><circle cx="1028.64" cy="694.13" r="1.7"/><circle cx="1040.53" cy="709.48" r="0.6"/><circle cx="1004.08" cy="726.99" r="0.9"/><circle cx="1015.45" cy="740.31" r="1.1"/><circle cx="1024.43" cy="691.74" r="0.5"/><circle cx="1029.93" cy="727.59" r="1.7"/><circle cx="1000.95" cy="723.08" r="0.5"/><circle cx="1050.88" cy="722.61" r="0.7"/><circle cx="992.36" cy="701.24" r="0.9"/><circle cx="1048.5" cy="690.83" r="0.5"/><circle cx="999.9" cy="689.3" r="0.6"/><circle cx="1026.41" cy="744.1" r="0.5"/><circle cx="1047.48" cy="717.28" r="1.1"/><circle cx="1023.12" cy="742.24" r="0.7"/><circle cx="1006.25" cy="716.56" r="1.4"/><circle cx="991.04" cy="720.46" r="0.7"/><circle cx="1015.41" cy="721.43" r="0.7"/><circle cx="1048.34" cy="691.48" r="1.7"/></g>
<path d="M993.1,685.6C1001,703 1019,724 1046.9,735" fill="none" stroke="#000" stroke-width="7.0" />
<path d="M993.1,685.6C1001,703 1019,724 1046.9,735" fill="none" stroke="#fff" stroke-width="3.9" />
</svg>
</body></html>
